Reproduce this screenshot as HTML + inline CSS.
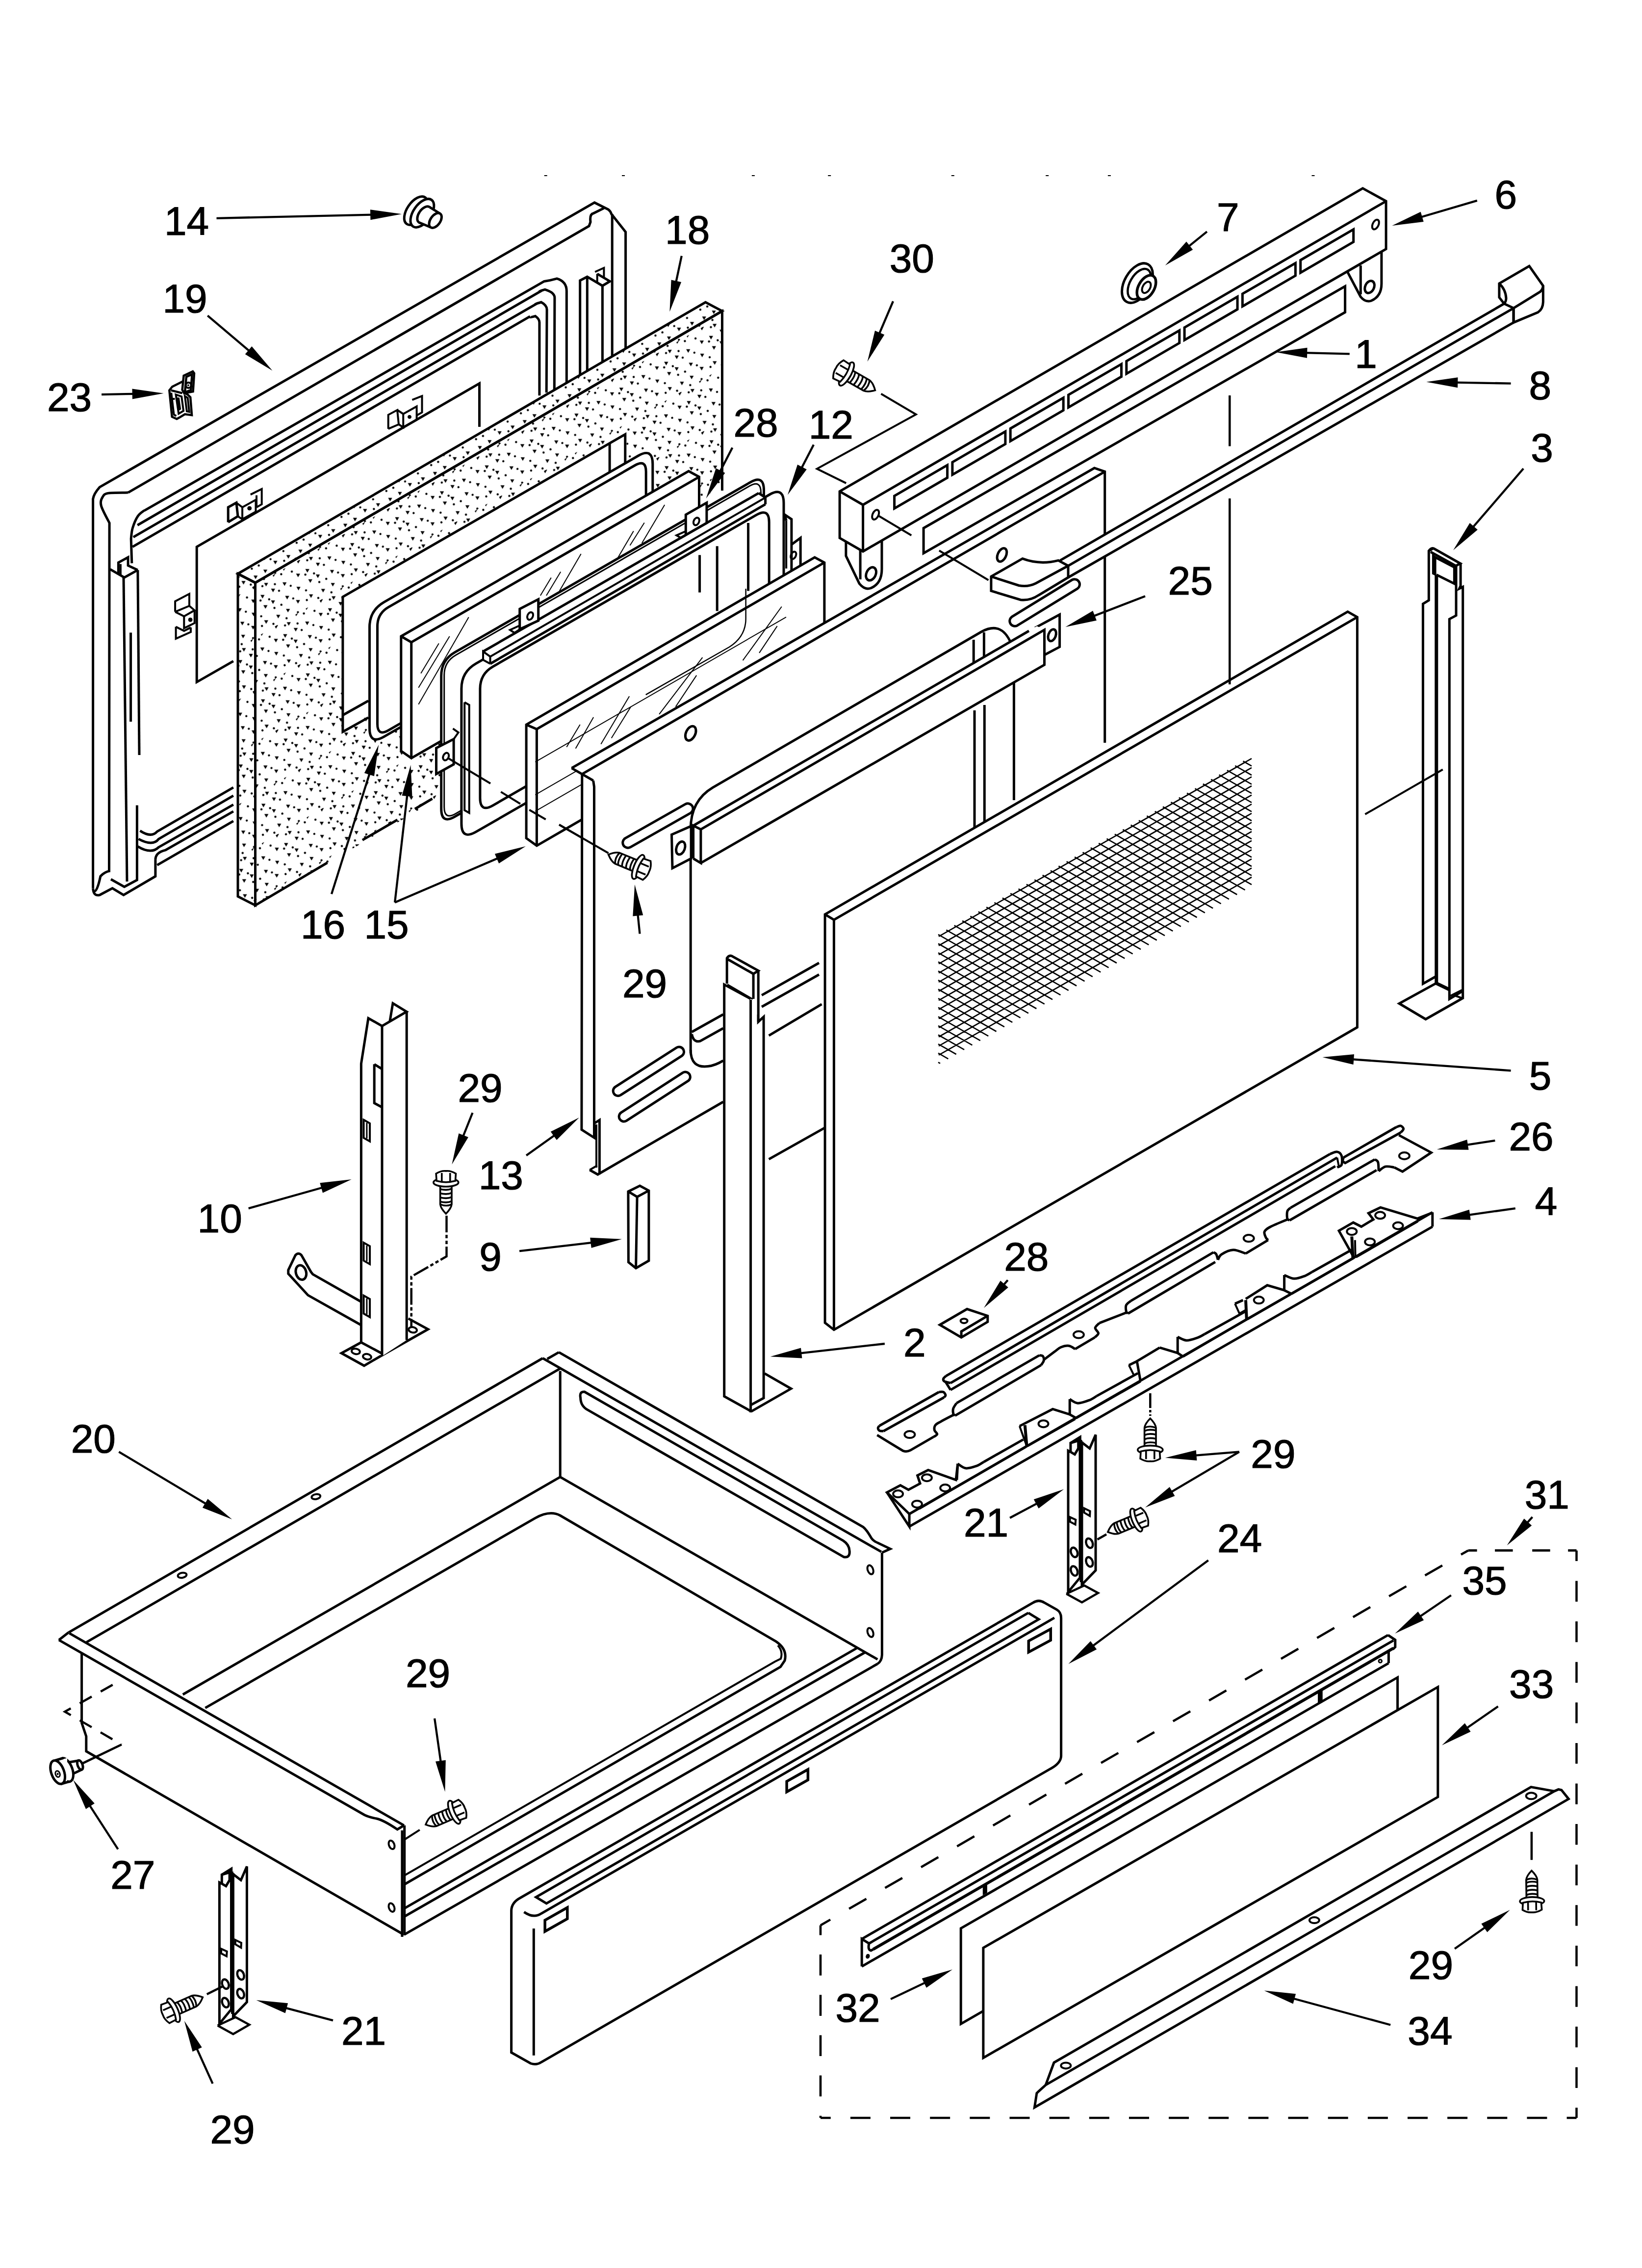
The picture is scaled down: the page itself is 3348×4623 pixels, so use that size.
<!DOCTYPE html>
<html><head><meta charset="utf-8"><title>Parts diagram</title>
<style>html,body{margin:0;padding:0;background:#fff}svg{display:block}
text{stroke:#000;stroke-width:1.2px;font-family:"Liberation Sans",Arial,Helvetica,sans-serif;fill:#000}</style></head>
<body><svg width="3348" height="4623" viewBox="0 0 3348 4623" stroke="#000" fill="none" stroke-linejoin="miter" stroke-linecap="butt">
<rect x="0" y="0" width="3348" height="4623" fill="#fff" stroke="none"/>
<defs><pattern id="dots" width="96" height="84" patternUnits="userSpaceOnUse" patternTransform="rotate(-30) scale(1.1)"><g fill="#000" stroke="none"><path d="M0.6,-4.2 L7.2,-0.4 L0.6,3.4zM9.9,20.3 L16.5,24.1 L9.9,27.9zM1.6,44.5 L8.2,48.3 L1.6,52.1zM15.1,61.2 L21.7,65.0 L15.1,68.8zM22.8,-4.6 L29.4,-0.8 L22.8,3.0zM39.7,19.0 L46.3,22.8 L39.7,26.6zM28.2,40.5 L34.7,44.3 L28.2,48.1zM41.3,64.2 L47.9,68.0 L41.3,71.8zM52.7,-2.9 L59.2,0.9 L52.6,4.7zM58.9,20.1 L65.5,23.9 L58.9,27.7zM54.1,39.4 L60.7,43.2 L54.1,47.0zM65.8,66.7 L72.3,70.5 L65.7,74.3zM75.8,4.2 L82.4,8.0 L75.8,11.8zM81.6,19.9 L88.2,23.7 L81.6,27.5zM70.7,38.7 L77.2,42.5 L70.6,46.3zM86.9,66.1 L93.4,69.9 L86.8,73.7z"/><circle cx="15.4" cy="6.1" r="2"/><circle cx="19.9" cy="33.5" r="2"/><circle cx="12.2" cy="56.1" r="2"/><circle cx="32.6" cy="71.3" r="2"/><circle cx="34.9" cy="11.7" r="2"/><circle cx="53.8" cy="29.2" r="2"/><circle cx="40.3" cy="55.0" r="2"/><circle cx="52.9" cy="78.6" r="2"/><circle cx="70.1" cy="7.8" r="2"/><circle cx="68.8" cy="35.2" r="2"/><circle cx="69.3" cy="53.9" r="2"/><circle cx="79.2" cy="81.8" r="2"/><circle cx="92.0" cy="16.2" r="2"/><circle cx="92.6" cy="30.6" r="2"/><circle cx="83.4" cy="55.4" r="2"/><circle cx="7.0" cy="82.7" r="2"/></g></pattern></defs>
<path d="M189.6,1810.6 L189.6,1017.2 Q191.1,1006.6 203.3,992.9 L1212.2,412.9 L1240.6,427.2 Q1244.7,430.3 1246.7,436.3 L1275.6,472.9 L1275.6,710.4" fill="none" stroke-width="5" />
<path d="M189.6,1810.6 Q190.6,1827.7 203.3,1824.3 L229.2,1810.6 L252,1824.3 L316.9,1786.2 L316.9,1752.7" fill="none" stroke-width="5" />
<path d="M316.9,1752.7 Q316.9,1737.6 337.3,1732.9 L475.8,1653.8" fill="none" stroke-width="5" />
<polyline points="320.5,1763.4 475.8,1673.6" fill="none" stroke-width="5" />
<path d="M1231.4,424.2 L1210.1,434.8 Q1202,436.4 1204,452.4 L1201,460.7 L261.1,1004.1" fill="none" stroke-width="5" />
<path d="M261.1,1004.1 C254.5,1004.3 230.2,1003.7 221.6,1005.1 C213.0,1006.5 211.9,1008.4 209.4,1012.7 C206.9,1017.0 204.0,1022.0 206.3,1030.9 C208.6,1039.8 220.3,1060.2 223.1,1066 L222.5,1775.6 Q212.8,1777.6 204.8,1786.2 Q198.6,1816.2 192.6,1816.7" fill="none" stroke-width="5" />
<polyline points="1248.2,436.3 1248.2,727.1" fill="none" stroke-width="5" />
<path d="M294.6,1040.7 L1109.6,573.4 Q1121.5,571.9 1135.5,567.9 Q1155.3,573.9 1155.3,593.2 L1155.3,780.4" fill="none" stroke-width="5" />
<path d="M280.3,1070.5 L1100.5,594.7 Q1097.1,594.1 1111.1,590.1 Q1130.9,596.1 1130.9,606.9 L1130.3,794.1" fill="none" stroke-width="5" />
<path d="M271.8,1094.9 L1091.4,620.6 Q1089.5,620 1103.5,616 Q1115.1,622 1115.1,631.2 L1114.2,800.2" fill="none" stroke-width="5" />
<path d="M270.3,1114.7 L1080.7,644.9 Q1077.4,648.3 1091.4,644.3 Q1099.9,650.3 1099.9,657.1 L1099.9,806.3" fill="none" stroke-width="5" />
<path d="M294.6,1040.1 C292.3,1042.1 284.9,1046.2 280.9,1052.3 C276.8,1058.4 272.6,1069.0 270.3,1076.6 C268.0,1084.2 267.7,1094.4 267.2,1097.9 L268.8,1148.2" fill="none" stroke-width="5" />
<polyline points="224.6,1160.4 253.5,1177.1 280.9,1161.9" fill="none" stroke-width="5" />
<polyline points="241.4,1169.5 241.4,1146.7 261.1,1136 261.1,1152.7 280.9,1161.9" fill="none" stroke-width="5" />
<polyline points="245.9,1149.7 245.9,1171.9" fill="none" stroke-width="4" />
<polyline points="252,1177.1 259,1796.9" fill="none" stroke-width="5" />
<polyline points="280.9,1161.9 284,1539" fill="none" stroke-width="5" />
<polyline points="279.4,1641.6 279.4,1793.8 253.5,1807.6 226.1,1792.3" fill="none" stroke-width="5" />
<polyline points="266.6,1289.6 266.6,1471" fill="none" stroke-width="5" />
<path d="M285.5,1693.4 Q308.3,1708.5 320.5,1694.9 L475.8,1605.1" fill="none" stroke-width="5" />
<path d="M282.5,1710.1 Q311.4,1725.9 323.6,1710.1 L475.8,1621.8" fill="none" stroke-width="5" />
<path d="M280.9,1725.3 Q308.3,1742 323.6,1726.9 L475.8,1640.1" fill="none" stroke-width="5" />
<polyline points="1182.7,771.3 1182.7,571.8 1197.3,564.2 1228.4,582.5 1243.6,573.4 1217.7,558.1" fill="none" stroke-width="5" />
<polyline points="1197.3,564.2 1197.3,763.7" fill="none" stroke-width="5" />
<polyline points="1228.4,582.5 1228.4,737.8" fill="none" stroke-width="5" />
<polyline points="1213.2,554.2 1231.4,546 1231.4,565.7" fill="none" stroke-width="4" />
<polyline points="1217.7,558.1 1217.7,574.9" fill="none" stroke-width="4" />
<polyline points="475.8,1347.6 401.2,1390.3 401.2,1114.7 977.5,781.6 977.5,869.9" fill="none" stroke-width="5" />
<polyline points="465.2,1064.4 465.2,1034 481.9,1024.8 485,1052.3 465.2,1064.4" fill="none" stroke-width="5" />
<polyline points="485,1052.3 494.1,1058.3 494.1,1034 481.9,1024.8" fill="none" stroke-width="4" />
<polyline points="494.1,1034 521.5,1018.8 521.5,1043.1 494.1,1058.3" fill="none" stroke-width="4" />
<polyline points="510.8,1008.1 533.7,996.8 533.7,1027.9 523,1034" fill="none" stroke-width="4" />
<polyline points="523,1009.6 523,1034" fill="none" stroke-width="4" />
<ellipse cx="508.7" cy="1036.1" rx="4" ry="4" transform="rotate(0 508.7 1036.1)" fill="#000" stroke-width="1"/>
<polyline points="791.7,874.2 791.7,845.6 810,835.8 813,865 791.7,874.2" fill="none" stroke-width="4" />
<polyline points="813,865 822.2,871.1 822.2,843.7 810,835.8" fill="none" stroke-width="4" />
<polyline points="822.2,843.7 849.6,828.5 849.6,855.9 822.2,871.1" fill="none" stroke-width="4" />
<polyline points="840.4,815.1 860.5,807.2 860.5,840.7 849.6,846.8" fill="none" stroke-width="4" />
<ellipse cx="835" cy="849.8" rx="3.5" ry="3.5" transform="rotate(0 835 849.8)" fill="#000" stroke-width="1"/>
<polyline points="357.1,1247.1 357.1,1225.8 386,1210.6 386,1235 357.1,1247.1" fill="none" stroke-width="4" />
<polyline points="357.1,1247.1 375.3,1256.3 396.7,1244.1 386,1235" fill="none" stroke-width="4" />
<polyline points="375.3,1256.3 375.3,1280.6 396.7,1270 396.7,1244.1" fill="none" stroke-width="4" />
<polyline points="358.6,1277.6 375.3,1286.1 389,1279.1" fill="none" stroke-width="4" />
<polyline points="358.6,1277.6 358.6,1301.9 389,1288.2 389,1279.1" fill="none" stroke-width="4" />
<ellipse cx="388.1" cy="1263.3" rx="4" ry="4" transform="rotate(0 388.1 1263.3)" fill="#000" stroke-width="1"/>
<path d="M485,1169.5 L1438.5,616 L1472.5,634 L1472.5,992 L1425.5,1018 L899.7,1516 L899.7,1624.5 L520.5,1845.3 L485,1827.3 Z" fill="#fff" stroke="none"/>
<path d="M520.5,1187.8 L1472.5,634 L1472.5,992 L1425.5,1018 L899.7,1516 L899.7,1624.5 L520.5,1845.3 Z M699.4,1217.6 L1277.4,883.5 L1277.4,1154.2 L699.4,1486.8 Z" fill="url(#dots)" fill-rule="evenodd" stroke="none"/>
<polygon points="485,1169.5 1438.5,616 1472.5,634 520.5,1187.8" fill="url(#dots)" stroke-width="5" />
<polygon points="485,1169.5 485,1827.3 520.5,1845.3 520.5,1187.8" fill="url(#dots)" stroke-width="5" />
<polyline points="520.5,1187.8 1472.5,634 1472.5,1000" fill="none" stroke-width="5" />
<polyline points="520.5,1187.8 520.5,1845.3 667.5,1758.5" fill="none" stroke-width="5" />
<polyline points="739,1712.4 810.3,1671" fill="none" stroke-width="5" />
<polyline points="845.9,1649 881.5,1628" fill="none" stroke-width="5" />
<polyline points="751,1462.6 698.9,1491.8 698.9,1216.6 1274.8,885.3 1274.8,946.2" fill="none" stroke-width="5" />
<polyline points="698.9,1457.7 751,1428.5" fill="none" stroke-width="5" />
<polyline points="1243.1,904.8 1243.1,963.2" fill="none" stroke-width="5" />
<path d="M753.5,1278.3 Q753.5,1244.3 783.0,1227.3 L1301.3,929.0 Q1330.8,912.1 1330.8,946.1 L1330.8,1152.4 Q1330.8,1186.4 1301.3,1203.3 L783.0,1501.6 Q753.5,1518.6 753.5,1484.6 Z" fill="#fff" stroke-width="5" />
<path d="M769.5,1276.7 Q769.5,1250.7 792.0,1237.7 L1294.7,948.5 Q1317.2,935.5 1317.2,961.5 L1317.2,1160.4 Q1317.2,1186.4 1294.7,1199.4 L792.0,1488.6 Q769.5,1501.6 769.5,1475.6 Z" fill="none" stroke-width="5" />
<polygon points="817.8,1297 1404.1,960.3 1425.5,972.1 1425.5,1208.4 838.7,1545.4 817.8,1530.8" fill="#fff" stroke-width="5" />
<polyline points="817.8,1297 838.7,1309.1 1425.5,972.1" fill="none" stroke-width="5" />
<polyline points="838.7,1309.1 838.7,1545.4" fill="none" stroke-width="5" />
<polyline points="858.2,1372.5 894.8,1311.6" fill="none" stroke-width="2" />
<polyline points="853.3,1401.7 916.7,1297" fill="none" stroke-width="2" />
<polyline points="853.3,1435.8 955.7,1258" fill="none" stroke-width="2" />
<polyline points="1101.8,1214.1 1123.8,1177.6" fill="none" stroke-width="2" />
<polyline points="1114,1214.1 1143.2,1165.4" fill="none" stroke-width="2" />
<polyline points="1140.8,1204.4 1184.7,1128.9" fill="none" stroke-width="2" />
<polyline points="1260.2,1136.2 1291.8,1082.6" fill="none" stroke-width="2" />
<polyline points="1284.5,1111.8 1313.8,1065.5" fill="none" stroke-width="2" />
<polyline points="1308.9,1106.9 1355.2,1029" fill="none" stroke-width="2" />
<path d="M899.7,1377.7 Q899.7,1345.7 927.4,1329.7 L1529.8,983.1 Q1557.5,967.1 1557.5,999.1 L1557.5,1270.1 Q1557.5,1302.1 1529.8,1318.1 L927.4,1664.7 Q899.7,1680.7 899.7,1648.7 Z" fill="#fff" stroke-width="5" />
<path d="M905.7,1376.0 Q905.7,1349.0 929.1,1335.5 L1528.1,990.8 Q1551.5,977.3 1551.5,1004.3 L1551.5,1273.3 Q1551.5,1300.3 1528.1,1313.8 L929.1,1658.5 Q905.7,1672.0 905.7,1645.0 Z" fill="none" stroke-width="3" />
<polyline points="1603.2,1061.4 1603.2,1158.8" fill="none" stroke-width="4" />
<polyline points="1603.2,1061.4 1600.2,1049.2 1613.9,1058.3 1613.9,1174.1" fill="none" stroke-width="5" />
<polyline points="1613.9,1110.1 1632.2,1096.4 1632.2,1152.7" fill="none" stroke-width="5" />
<ellipse cx="1617.8" cy="1132" rx="5" ry="8" transform="rotate(25 1617.8 1132)" fill="none" stroke-width="4"/>
<path d="M940.9,1403.7 Q940.9,1369.7 970.4,1352.7 L1568.5,1008.5 Q1598.0,991.5 1598.0,1025.5 L1598.0,1300.5 Q1598.0,1334.5 1568.5,1351.5 L970.4,1695.7 Q940.9,1712.7 940.9,1678.7 Z" fill="#fff" stroke-width="5" />
<polyline points="947.2,1431.4 947.2,1651.5 956.7,1657 956.7,1436.9 947.2,1431.4" fill="none" stroke-width="4" />
<path d="M978.9,1403.8 Q978.9,1373.8 1004.9,1358.8 L1542.2,1049.6 Q1568.2,1034.7 1568.2,1064.7 L1568.2,1287.7 Q1568.2,1317.7 1542.2,1332.6 L1004.9,1641.8 Q978.9,1656.8 978.9,1626.8 Z" fill="none" stroke-width="5" />
<polyline points="1426.6,1131.4 1426.6,1207.6" fill="none" stroke-width="5" />
<polyline points="1462.2,1113.2 1462.2,1245.6" fill="none" stroke-width="5" />
<polyline points="1525.6,1066 1525.6,1204.5" fill="none" stroke-width="5" />
<polyline points="1566.7,1201.5 1566.7,1295.9" fill="none" stroke-width="5" />
<polygon points="985,1328 1546.9,1005.1 1560.6,1014.2 1560.6,1027.9 999.5,1353 985,1345" fill="#fff" stroke-width="1"  stroke="none"/>
<polyline points="985,1328 1546.9,1005.1" fill="none" stroke-width="5" />
<polyline points="999.5,1338.4 1560.6,1014.2" fill="none" stroke-width="4" />
<polyline points="999.5,1353 1560.6,1027.9" fill="none" stroke-width="5" />
<polyline points="1546.9,1005.1 1560.6,1014.2 1560.6,1027.9" fill="none" stroke-width="5" />
<polyline points="999.5,1353 999.5,1338.4 985,1328 985,1345 999.5,1353" fill="none" stroke-width="4" />
<polygon points="1398.3,1049.2 1440.9,1024.8 1440.9,1066 1398.3,1090.3" fill="#fff" stroke-width="5" />
<ellipse cx="1419.9" cy="1062.9" rx="5.5" ry="8" transform="rotate(25 1419.9 1062.9)" fill="none" stroke-width="4"/>
<polyline points="1398.3,1082.7 1379.4,1091.2 1388.6,1096.4 1398.3,1091" fill="none" stroke-width="4" />
<polygon points="1059.7,1241.3 1097.7,1221.5 1097.7,1265.1 1059.7,1282.5" fill="#fff" stroke-width="5" />
<ellipse cx="1081" cy="1255.6" rx="5.5" ry="8" transform="rotate(25 1081 1255.6)" fill="none" stroke-width="4"/>
<polyline points="1059.7,1275 1040,1284 1049,1290 1059.7,1283" fill="none" stroke-width="4" />
<polygon points="889.5,1524.8 925.1,1506.6 925.1,1558 889.5,1577.8" fill="#fff" stroke-width="5" />
<ellipse cx="909.2" cy="1542.2" rx="5.5" ry="8" transform="rotate(25 909.2 1542.2)" fill="none" stroke-width="4"/>
<polyline points="923.5,1485.2 934.6,1493.1 925.1,1506.6" fill="none" stroke-width="4" />
<polyline points="913,1545 1000,1597" fill="none" stroke-width="4" />
<polygon points="1073.1,1477.1 1661.1,1136 1680.9,1146.7 1680.9,1384.3 1094.4,1723.8 1073.1,1708.5" fill="#fff" stroke-width="5" />
<polyline points="1073.1,1477.1 1094.4,1486.2 1680.9,1146.7" fill="none" stroke-width="5" />
<polyline points="1094.4,1486.2 1094.4,1723.8" fill="none" stroke-width="5" />
<polyline points="1021.3,1614.1 1060.9,1638.5" fill="none" stroke-width="4" />
<polyline points="1079.2,1650.7 1112.7,1670.2" fill="none" stroke-width="4" />
<polyline points="1140.1,1681.1 1240.6,1739" fill="none" stroke-width="4" />
<polyline points="1091.4,1553.2 1602.9,1257.9" fill="none" stroke-width="2" />
<polyline points="1091.4,1620.2 1426.3,1426.6" fill="none" stroke-width="2" />
<polyline points="1091.4,1653.7 1389.8,1481.4" fill="none" stroke-width="2" />
<polyline points="1155.3,1522.8 1182.7,1477.1" fill="none" stroke-width="2" />
<polyline points="1173.6,1525.8 1210.1,1461.9" fill="none" stroke-width="2" />
<polyline points="1225.3,1516.7 1283.2,1419.2" fill="none" stroke-width="2" />
<polyline points="1246.7,1504.5 1286.2,1440.6" fill="none" stroke-width="2" />
<polyline points="1344.1,1455.8 1432.4,1340.1" fill="none" stroke-width="2" />
<polyline points="1377.6,1440.6 1420.2,1376.6" fill="none" stroke-width="2" />
<polyline points="1514.6,1346.2 1593.8,1236.5" fill="none" stroke-width="2" />
<polyline points="1548.1,1330.9 1584.7,1276.1" fill="none" stroke-width="2" />
<path d="M1520.7,1200 L1520.7,1260.9 Q1520.7,1297.4 1487.2,1318.8 L1316.7,1416.2" fill="none" stroke-width="2.5" />
<polygon points="1165.5,1565.7 2231.4,954 2252.7,961.3 2252.7,1796.41 1218.8,2394 1202.3,2384.8 1222.4,2373 1222.4,2283 1211.5,2290 1211.5,2319 1185.9,2302.6 1186.8,1577.9" fill="#fff" stroke-width="1"  stroke="none"/>
<polyline points="1165.5,1565.7 2231.4,954 2252.7,961.3 2252.7,1514" fill="none" stroke-width="5" />
<polyline points="1165.5,1565.7 1186.8,1577.9 2252.7,961.3" fill="none" stroke-width="5" />
<polyline points="1186.8,1577.9 1185.9,2302.6 1211.5,2319 1211.5,1604 1209.6,1591" fill="none" stroke-width="5" />
<polyline points="1186.8,1577.9 1209.6,1591" fill="none" stroke-width="5" />
<polyline points="1211.5,2290 1222.4,2283 1222.4,2394" fill="none" stroke-width="5" />
<polyline points="1216,2292 1216,2380" fill="none" stroke-width="4" />
<polyline points="1202.3,2384.8 1218.8,2394 1474.5,2246" fill="none" stroke-width="5" />
<polyline points="1202.3,2384.8 1217.7,2375.7" fill="none" stroke-width="4" />
<path d="M1408.2,2147 L1408.2,1690 Q1408.2,1632 1453.2,1605.3 L2001.6,1287.5 Q2045,1264 2064,1318 L2067.4,1335 L2067.4,1631" fill="none" stroke-width="5" />
<path d="M1408.2,2140 Q1408.2,2178 1443.5,2173.6 Q1458,2172 1474.5,2162" fill="none" stroke-width="5" />
<polyline points="1410.6,2103.5 1474.5,2067.8" fill="none" stroke-width="5" />
<path d="M1410.6,2108 Q1414,2126 1428,2122 L1474.5,2096" fill="none" stroke-width="5" />
<polyline points="1553.1,2028.6 1670,1962.8" fill="none" stroke-width="5" />
<polyline points="1553.1,2052.3 1670,1986.5" fill="none" stroke-width="5" />
<polyline points="1567.7,2110.8 1675.5,2046.8" fill="none" stroke-width="5" />
<polyline points="1567.7,2362.9 1684.7,2297.1" fill="none" stroke-width="5" />
<polyline points="1985.2,1304 1985.2,1368" fill="none" stroke-width="5" />
<polyline points="2006.4,1289 2006.4,1357" fill="none" stroke-width="5" />
<polyline points="1987,1448 1987,1700" fill="none" stroke-width="5" />
<polyline points="2007.3,1437 2007.3,1690" fill="none" stroke-width="5" />
<path d="M1284.9,1727.1 L1408.2,1657.1 A10.5,10.5 0 0 0 1397.8,1638.9 L1274.5,1708.9 A10.5,10.5 0 0 0 1284.9,1727.1 Z" fill="none" stroke-width="5" />
<path d="M2074.0,1275.2 L2197.2,1199.6 A10.5,10.5 0 0 0 2186.2,1181.8 L2063.0,1257.4 A10.5,10.5 0 0 0 2074.0,1275.2 Z" fill="none" stroke-width="5" />
<path d="M1265.1,2232.4 L1390.4,2152.1 A10,10 0 0 0 1379.6,2135.3 L1254.3,2215.6 A10,10 0 0 0 1265.1,2232.4 Z" fill="none" stroke-width="5" />
<path d="M1277.1,2284.7 L1403.2,2203.2 A10,10 0 0 0 1392.4,2186.4 L1266.3,2267.9 A10,10 0 0 0 1277.1,2284.7 Z" fill="none" stroke-width="5" />
<ellipse cx="1408.2" cy="1494.8" rx="9.5" ry="15.5" transform="rotate(25 1408.2 1494.8)" fill="none" stroke-width="5"/>
<ellipse cx="2042.9" cy="1131.1" rx="8.5" ry="14.5" transform="rotate(25 2042.9 1131.1)" fill="none" stroke-width="5"/>
<polygon points="1883.1,1076.5 2742.6,583.5 2742.6,636.5 1883.1,1127.7" fill="#fff" stroke-width="5" />
<path d="M1724.9,1104 L1724.9,1133.2 L1752.3,1189.8 Q1763,1203 1775,1199 Q1798,1190 1798,1160 L1798,1102" fill="#fff" stroke-width="5" />
<polyline points="1754.1,1122.2 1754.1,1181" fill="none" stroke-width="5" />
<ellipse cx="1776.1" cy="1169.7" rx="9.5" ry="14" transform="rotate(25 1776.1 1169.7)" fill="none" stroke-width="5"/>
<path d="M2746.9,553.2 L2774.3,605 Q2784,617 2796,613 Q2816.9,604 2816.9,578 L2816.9,510" fill="#fff" stroke-width="5" />
<polyline points="2774.3,541 2774.3,600" fill="none" stroke-width="5" />
<ellipse cx="2792.6" cy="584.9" rx="9" ry="13" transform="rotate(25 2792.6 584.9)" fill="none" stroke-width="5"/>
<polygon points="1712.1,1001.6 2778.6,383.9 2826.1,410.1 2826.1,507.6 1759.6,1124 1712.1,1096.6" fill="#fff" stroke-width="5" />
<polyline points="1712.1,1001.6 1759.6,1029 2826.1,410.1" fill="none" stroke-width="5" />
<polyline points="1759.6,1029 1759.6,1124" fill="none" stroke-width="5" />
<polygon points="1823.6,1010.8 1931.6,948.128 1931.6,973.728 1823.6,1036.4" fill="none" stroke-width="5" />
<polygon points="1941.9,942.151 2049.9,879.478 2049.9,905.078 1941.9,967.751" fill="none" stroke-width="5" />
<polygon points="2060.2,873.501 2168.2,810.829 2168.2,836.429 2060.2,899.101" fill="none" stroke-width="5" />
<polygon points="2178.5,804.852 2286.5,742.179 2286.5,767.779 2178.5,830.452" fill="none" stroke-width="5" />
<polygon points="2296.8,736.202 2404.8,673.53 2404.8,699.13 2296.8,761.802" fill="none" stroke-width="5" />
<polygon points="2415.1,667.553 2523.1,604.88 2523.1,630.48 2415.1,693.153" fill="none" stroke-width="5" />
<polygon points="2533.4,598.903 2641.4,536.231 2641.4,561.831 2533.4,624.503" fill="none" stroke-width="5" />
<polygon points="2651.7,530.254 2759.7,467.581 2759.7,493.181 2651.7,555.854" fill="none" stroke-width="5" />
<ellipse cx="1785.2" cy="1049.1" rx="6" ry="10.5" transform="rotate(25 1785.2 1049.1)" fill="none" stroke-width="4"/>
<ellipse cx="2804.8" cy="457.6" rx="6" ry="10.5" transform="rotate(25 2804.8 457.6)" fill="none" stroke-width="4"/>
<polyline points="1790.7,1051 1858.3,1091.2" fill="none" stroke-width="4" />
<polyline points="1914.9,1122.2 2015.4,1182.5" fill="none" stroke-width="4" />
<polyline points="1796.5,802.8 1867.7,844.7 1665.8,955.6 1725.2,984.9" fill="none" stroke-width="4" />
<polygon points="2161.6,1142.3 3066.9,619 3086.1,628.1 3086.1,657.4 2178,1177 2178,1153.3" fill="#fff" stroke-width="1"  stroke="none"/>
<polyline points="2161.6,1142.3 3066.9,619" fill="none" stroke-width="5" />
<polyline points="2178,1153.3 3086.1,628.1" fill="none" stroke-width="5" />
<polyline points="2178,1177 3086.1,657.4" fill="none" stroke-width="5" />
<path d="M3056.9,577.9 L3118.1,542.3 L3146.4,582.5 L3146.4,615.4 Q3146,630 3136,636.5 L3086.1,657.4 L3086.1,628.1 L3066.9,619 L3056.9,606.2 Z" fill="#fff" stroke-width="5" />
<polyline points="3086.1,628.1 3086.1,657.4" fill="none" stroke-width="5" />
<path d="M3086.1,628.1 L3140,595 Q3146,590 3146.4,582.5" fill="none" stroke-width="5" />
<path d="M3056.9,577.9 Q3070,590 3071,608 Q3071,614 3066.9,619" fill="none" stroke-width="5" />
<path d="M2020.9,1175.2 L2084.8,1138.7 Q2120,1152 2157.9,1142.3 L2178,1153.3 L2178,1177 L2118,1213 Q2100,1225 2081.2,1222.7 L2020.9,1204.4 Z" fill="#fff" stroke-width="5" />
<path d="M2020.9,1175.2 L2077.5,1193.5 Q2096,1197 2112,1189 L2178,1153.3" fill="none" stroke-width="5" />
<polygon points="1369.5,1701.2 1409.1,1683.9 1409.1,1750 1371,1769.7" fill="#fff" stroke-width="5" />
<ellipse cx="1387.8" cy="1728.6" rx="8.5" ry="13.7" transform="rotate(20 1387.8 1728.6)" fill="none" stroke-width="5"/>
<polygon points="2113.1,1278.4 2160.6,1252.8 2160.6,1318.6 2129.5,1335 2129.5,1285.7 2124.1,1289.3" fill="#fff" stroke-width="5" />
<ellipse cx="2145.2" cy="1294.8" rx="7.5" ry="12.5" transform="rotate(20 2145.2 1294.8)" fill="none" stroke-width="5"/>
<polygon points="1413.6,1683 2114.2,1276.3 2129.5,1283.9 2129.5,1355.1 1428.9,1759.1 1413.6,1750" fill="#fff" stroke-width="1"  stroke="none"/>
<polyline points="1413.6,1750 1413.6,1683 1428.9,1690.6 1428.9,1759.1 1413.6,1750" fill="none" stroke-width="5" />
<polyline points="1428.9,1690.6 2129.5,1283.9 2129.5,1355.1 1428.9,1759.1" fill="none" stroke-width="5" />
<polyline points="1413.6,1683 2098,1286" fill="none" stroke-width="5" />
<polygon points="1476.7,2006.9 1482.2,2004 1482.2,1953 1491.4,1948.4 1546.2,1978.6 1546.2,2082.7 1557.1,2072.7 1557.1,2849.8 1612.9,2830.6 1531.6,2877.2 1476.7,2846.2" fill="#fff" stroke-width="1"  stroke="none"/>
<polyline points="1559,2799.6 1612.9,2830.6 1531.6,2877.2" fill="none" stroke-width="5" />
<polyline points="1530.6,2036 1476.7,2006.9 1476.7,2846.2 1530.6,2876.3" fill="none" stroke-width="5" />
<polyline points="1483.2,2006.5 1534.6,2036.5" fill="none" stroke-width="3" />
<polyline points="1530.6,2038 1530.6,2879" fill="none" stroke-width="5" />
<path d="M1482.2,2005 L1482.2,1953 Q1486,1947 1491.4,1948.4 L1546.2,1978.6 L1536.1,1985 L1483.2,1955" fill="none" stroke-width="5" />
<polyline points="1536.1,1985.9 1536.1,2036.1" fill="none" stroke-width="5" />
<polyline points="1546.2,1978.6 1546.2,2082.7 1557.1,2072.7 1557.1,2849.8 1531.6,2863.5" fill="none" stroke-width="5" />
<polyline points="1545.2,2082.7 1545.2,2068" fill="none" stroke-width="3" />
<polygon points="1280.9,2428.7 1304.6,2417 1322.9,2426.9 1322.9,2569.7 1296.6,2584.9 1281.4,2572.7" fill="#fff" stroke-width="5" />
<polyline points="1280.9,2428.7 1299.1,2439.6 1322.9,2426.9" fill="none" stroke-width="5" />
<polyline points="1299.1,2439.6 1296.6,2584.9" fill="none" stroke-width="5" />
<polygon points="1682.1,1863.8 2747.9,1246.9 2767.4,1257.9 2767.4,2094 1700.4,2710.6 1682.1,2696.3" fill="#fff" stroke-width="5" />
<polyline points="1682.1,1863.8 1700.4,1874.8 2767.4,1257.9" fill="none" stroke-width="5" />
<polyline points="1700.4,1874.8 1700.4,2710.6" fill="none" stroke-width="5" />
<path d="M1914.0,1908.9 L2552.0,1546.2M1914.0,1927.5 L2552.0,1564.8M1914.0,1946.1 L2552.0,1583.4M1914.0,1964.7 L2552.0,1602.0M1914.0,1983.3 L2552.0,1620.6M1914.0,2001.9 L2552.0,1639.2M1914.0,2020.5 L2552.0,1657.8M1914.0,2039.1 L2552.0,1676.4M1914.0,2057.7 L2552.0,1695.0M1914.0,2076.3 L2552.0,1713.6M1914.0,2094.9 L2552.0,1732.2M1914.0,2113.5 L2552.0,1750.8M1914.0,2132.1 L2552.0,1769.4M1914.0,2150.7 L2552.0,1788.0M1913.0,2165.3 L1917.0,2167.6M1913.0,2146.7 L1933.4,2158.3M1913.0,2128.1 L1949.7,2149.0M1913.0,2109.5 L1966.1,2139.7M1913.0,2090.9 L1982.4,2130.4M1913.0,2072.3 L1998.8,2121.1M1913.0,2053.7 L2015.2,2111.8M1913.0,2035.1 L2031.5,2102.5M1913.0,2016.5 L2047.9,2093.2M1913.0,1997.9 L2064.2,2083.9M1913.0,1979.3 L2080.6,2074.6M1913.0,1960.7 L2096.9,2065.3M1913.0,1942.1 L2113.3,2056.0M1913.0,1923.5 L2129.7,2046.7M1913.0,1904.9 L2146.0,2037.4M1929.4,1895.6 L2162.4,2028.1M1945.7,1886.3 L2178.7,2018.8M1962.1,1877.0 L2195.1,2009.5M1978.4,1867.7 L2211.5,2000.2M1994.8,1858.4 L2227.8,1990.9M2011.2,1849.1 L2244.2,1981.6M2027.5,1839.8 L2260.5,1972.3M2043.9,1830.5 L2276.9,1963.0M2060.2,1821.2 L2293.3,1953.7M2076.6,1811.9 L2309.6,1944.4M2092.9,1802.6 L2326.0,1935.1M2109.3,1793.3 L2342.3,1925.8M2125.7,1784.0 L2358.7,1916.5M2142.0,1774.7 L2375.0,1907.2M2158.4,1765.4 L2391.4,1897.9M2174.7,1756.1 L2407.8,1888.6M2191.1,1746.8 L2424.1,1879.3M2207.5,1737.5 L2440.5,1870.0M2223.8,1728.2 L2456.8,1860.7M2240.2,1718.9 L2473.2,1851.4M2256.5,1709.6 L2489.6,1842.1M2272.9,1700.3 L2505.9,1832.8M2289.3,1691.0 L2522.3,1823.5M2305.6,1681.7 L2538.6,1814.2M2322.0,1672.4 L2552.0,1803.2M2338.3,1663.1 L2552.0,1784.6M2354.7,1653.8 L2552.0,1766.0M2371.0,1644.5 L2552.0,1747.4M2387.4,1635.2 L2552.0,1728.8M2403.8,1625.9 L2552.0,1710.2M2420.1,1616.6 L2552.0,1691.6M2436.5,1607.3 L2552.0,1673.0M2452.8,1598.0 L2552.0,1654.4M2469.2,1588.7 L2552.0,1635.8M2485.6,1579.4 L2552.0,1617.2M2501.9,1570.1 L2552.0,1598.6M2518.3,1560.8 L2552.0,1580.0M2534.6,1551.5 L2552.0,1561.4" fill="none" stroke-width="2.7" />
<polygon points="2913.3,1123 2922.4,1117.6 2978.1,1149.6 2978.1,1194.3 2982.7,1196.2 2982.7,2036.4 2906.9,2077.5 2853,2045.5 2901.4,2018 2901.4,1230.9 2913.3,1223.6" fill="#fff" stroke-width="1"  stroke="none"/>
<polyline points="2927.9,2004.4 2853,2045.5 2906.9,2077.5 2982.7,2034.5" fill="none" stroke-width="5" />
<polyline points="2922.4,1117.6 2913.3,1123.1 2913.3,1223.6 2901.4,1230.9 2901.4,2005.3 2928.8,1989.8" fill="none" stroke-width="5" />
<path d="M2913.3,1123.1 Q2918,1116 2923.5,1118 L2977.5,1148.5 L2968.5,1153.5 L2917,1125" fill="none" stroke-width="5" />
<polyline points="2922.4,1128.6 2922.4,1168.8 2928,1171.5" fill="none" stroke-width="5" />
<polyline points="2926.1,1168.8 2926.1,1135.9 2965.4,1156.3 2965.4,1189.8 2928.8,1171.5" fill="none" stroke-width="5" />
<polyline points="2928.8,1171.5 2928.8,2004.4 2955.3,2017.2" fill="none" stroke-width="7" />
<polyline points="2969,1153.5 2969,1254.6 2955.3,1261.9 2955.3,2036.4 2981,2020.8" fill="none" stroke-width="5" />
<polyline points="2957.1,2030 2980.9,2018.1" fill="none" stroke-width="4" />
<polyline points="2978.1,1149.6 2978.1,1194.3 2975.5,1199.8 2982.7,1196.2 2982.7,2036.4" fill="none" stroke-width="5" />
<polyline points="2968.1,2030 2980.9,2034.5" fill="none" stroke-width="4" />
<polyline points="2783.4,1659.8 2941.8,1568.5" fill="none" stroke-width="4" />
<path d="M736.4,2653.5 L637.7,2597.4 L634,2592.6 L614.6,2558.5 Q608.5,2552 602.4,2558.5 L587.8,2588.9 L587.8,2596.2 L628,2640.1 L736.4,2701" fill="#fff" stroke-width="5" />
<ellipse cx="613.8" cy="2593.8" rx="10.5" ry="15" transform="rotate(-15 613.8 2593.8)" fill="none" stroke-width="5"/>
<polyline points="736.4,2736.3 696.2,2758.2 742.4,2783.8 779,2762.5 872.8,2709.5 832.6,2687.6" fill="#fff" stroke-width="5" />
<ellipse cx="725.4" cy="2754.6" rx="8.5" ry="5.5" transform="rotate(10 725.4 2754.6)" fill="none" stroke-width="4"/>
<ellipse cx="748.5" cy="2765.5" rx="8.5" ry="5.5" transform="rotate(10 748.5 2765.5)" fill="none" stroke-width="4"/>
<ellipse cx="841.6" cy="2710.7" rx="8.5" ry="5.5" transform="rotate(10 841.6 2710.7)" fill="none" stroke-width="4"/>
<polygon points="736.4,2168.1 751,2075.5 779,2091.4 829,2062.1 829.2,2731.4 779,2764.3 736.4,2736.3" fill="#fff" stroke-width="1"  stroke="none"/>
<polyline points="736.4,2736.3 736.4,2168.1 751,2075.5 779,2091.4 829,2062.1 801,2045.1 794.9,2081.6" fill="none" stroke-width="5" />
<polyline points="736.4,2736.3 779,2759" fill="none" stroke-width="5" />
<polyline points="779,2091.4 779,2764.3" fill="none" stroke-width="5" />
<polyline points="829.2,2062.1 829.2,2731.4" fill="none" stroke-width="5" />
<polyline points="763.2,2169.3 779,2179" fill="none" stroke-width="5" />
<polyline points="779,2257 763.2,2248.5 763.2,2169.3" fill="none" stroke-width="5" />
<polygon points="741.5,2282.6 754.1,2289.8 754.1,2326.6 741.5,2319.4" fill="none" stroke-width="4" />
<polyline points="747.9,2288.6 747.9,2320.6" fill="none" stroke-width="3" />
<polygon points="741.5,2532.9 754.1,2540.1 754.1,2576.9 741.5,2569.7" fill="none" stroke-width="4" />
<polyline points="747.9,2538.9 747.9,2570.9" fill="none" stroke-width="3" />
<polygon points="741.5,2640.8 754.1,2648 754.1,2684.8 741.5,2677.6" fill="none" stroke-width="4" />
<polyline points="747.9,2646.8 747.9,2678.8" fill="none" stroke-width="3" />
<path d="M910.5,2478 L910.5,2560.9 L838.7,2602.3 L838.7,2704.6" fill="none" stroke-width="4.5" stroke-dasharray="34 5 7 5 7 5"/>
<polygon points="1139.5,2756.3 1760.4,3112.9 1815.2,3157.1 1798.4,3164.7 1798.4,3380 1789.3,3391.5 824.7,3943.1 819.9,3941.5 175.8,3569.7 166.6,3370 120,3342.9 139.8,3327.6" fill="#fff" stroke-width="1"  stroke="none"/>
<polyline points="1142.2,3010.6 372.8,3454" fill="none" stroke-width="5" />
<polyline points="1142.2,3010.6 1789.3,3382.4" fill="none" stroke-width="5" />
<polyline points="1142.2,2794.4 1142.2,3010.6" fill="none" stroke-width="5" />
<path d="M418.5,3481.4 L1091.4,3094.3 Q1121,3078 1142,3089 L1582.2,3345.9 Q1606,3362 1600,3385 L1591.4,3397.6 L824.7,3841" fill="none" stroke-width="5" />
<path d="M1586,3354 Q1597,3366 1592,3381 L1580,3387 L824.7,3822.8" fill="none" stroke-width="4" />
<path d="M1719.2,3140.3 L1191.8,2837 Q1181,2836 1183.6,2849.2 Q1184,2866 1197.9,2873.6 L1720.8,3173.8 Q1734,3176 1732,3160 Q1731,3148 1719.2,3140.3 Z" fill="none" stroke-width="5" />
<path d="M1139.5,2756.3 L1760.4,3112.9 Q1767,3118 1777.1,3135.7 Q1782,3142 1790,3145 L1815.2,3157.1 L1798.4,3164.7" fill="none" stroke-width="5" />
<polyline points="1796.9,3163.2 1106.6,2768.5" fill="none" stroke-width="5" />
<polyline points="1139.5,2756.3 1115.8,2770" fill="none" stroke-width="5" />
<path d="M1798.4,3164.7 L1798.4,3373 Q1798,3386 1789.3,3391.5" fill="none" stroke-width="5" />
<ellipse cx="1774.7" cy="3199.7" rx="5.5" ry="9.5" transform="rotate(-20 1774.7 3199.7)" fill="none" stroke-width="4"/>
<ellipse cx="1774.7" cy="3327.6" rx="5.5" ry="9.5" transform="rotate(-20 1774.7 3327.6)" fill="none" stroke-width="4"/>
<polyline points="1106.6,2768.5 139.8,3327.6" fill="none" stroke-width="5" />
<polyline points="1141.6,2789.8 176.4,3347.4" fill="none" stroke-width="5" />
<ellipse cx="644.3" cy="3050.8" rx="9" ry="5" transform="rotate(-10 644.3 3050.8)" fill="none" stroke-width="4"/>
<ellipse cx="371.5" cy="3211" rx="9" ry="5" transform="rotate(-10 371.5 3211)" fill="none" stroke-width="4"/>
<polyline points="824.7,3889.8 1746.7,3359.6" fill="none" stroke-width="5" />
<polyline points="824.7,3906.5 1764.9,3367.5" fill="none" stroke-width="5" />
<polyline points="824.7,3943.1 1789.3,3391.5" fill="none" stroke-width="5" />
<polygon points="139.8,3327.6 823.8,3720.8 824.7,3943.1 819.9,3941.5 175.8,3569.7 175.8,3539.3 166.6,3511.9 166.6,3370.3" fill="#fff" stroke-width="1"  stroke="none"/>
<polyline points="139.8,3327.6 120,3342.9" fill="none" stroke-width="5" />
<polyline points="141.4,3329.2 823.8,3720.8" fill="none" stroke-width="5" />
<path d="M120,3342.9 L743.1,3699.5 Q752,3704 768,3707 Q782,3710 810.1,3729 L823.8,3720.8" fill="none" stroke-width="5" />
<polyline points="166.6,3370.3 166.6,3511.9 175.8,3539.3 175.8,3569.7 819.9,3941.5" fill="none" stroke-width="5" />
<polyline points="819.9,3731 819.9,3948" fill="none" stroke-width="5" />
<polyline points="824.7,3720.8 824.7,3945" fill="none" stroke-width="5" />
<ellipse cx="798.5" cy="3760.4" rx="5.5" ry="9" transform="rotate(-20 798.5 3760.4)" fill="none" stroke-width="4"/>
<ellipse cx="798.5" cy="3888.2" rx="5.5" ry="9" transform="rotate(-20 798.5 3888.2)" fill="none" stroke-width="4"/>
<polyline points="824.7,3749.7 855.8,3729.9" fill="none" stroke-width="4" />
<path d="M229.7,3434.2 L132.2,3489 L247.9,3556" fill="none" stroke-width="4.5" stroke-dasharray="28 21"/>
<polyline points="247.9,3556 168.8,3594.1" fill="none" stroke-width="4.5" />
<path d="M1042.6,4183.7 L1042.6,3894.4 Q1043,3878 1060.9,3868.5 L2105.8,3267.2 Q2118,3259 2130.1,3267.2 L2154.5,3280.9 Q2163.6,3286 2163.6,3298 L2163.6,3579.4 Q2163,3594 2142.3,3605.2 L1103.5,4203.5 Q1094,4210 1082,4206 Z" fill="#fff" stroke-width="5" />
<polyline points="1088.3,3930.9 1088.3,4189.8" fill="none" stroke-width="5" />
<path d="M1068.5,3897.4 Q1088,3911 1103.5,3900.5 L2149.9,3297.7" fill="none" stroke-width="5" />
<polyline points="2096.7,3287.6 1092.9,3867 1114.2,3879.8 2118,3300.7 2096.7,3287.6" fill="none" stroke-width="5" />
<polygon points="1111.1,3914.2 1156.8,3888.3 1156.8,3911.1 1111.1,3937" fill="none" stroke-width="5.5" />
<polygon points="1604.1,3631.2 1647.4,3606.8 1647.4,3628.1 1604.1,3652.5" fill="none" stroke-width="5.5" />
<polygon points="2097.3,3344.9 2142.3,3320.5 2142.3,3343.4 2097.3,3367.7" fill="none" stroke-width="5.5" />
<path d="M2993.6,3160.4 L1673,3924.5" fill="none" stroke-width="4.6" stroke-dasharray="40.8 44" stroke-dashoffset="23.9"/>
<path d="M1673,3924.5 L1673,4317" fill="none" stroke-width="4.6" stroke-dasharray="42.7 39.5" stroke-dashoffset="22.7"/>
<path d="M3214.5,4317 L1673,4317" fill="none" stroke-width="4.6" stroke-dasharray="41 40.15" stroke-dashoffset="21.1"/>
<path d="M3214.5,4317 L3214.5,3160.4" fill="none" stroke-width="4.6" stroke-dasharray="42.2 40.4" stroke-dashoffset="21.5"/>
<path d="M2993.6,3160.4 L3214.5,3160.4" fill="none" stroke-width="4.6" stroke-dasharray="18 36.5 36.5 39.6 36.5 36.5 18"/>
<polygon points="1959.2,3930.6 2849.6,3419.2 2849.6,3614 1959.2,4125.4" fill="#fff" stroke-width="1"  stroke="none"/>
<polyline points="2004.9,4099.2 1959.2,4125.4 1959.2,3930.6 2849.6,3419.2 2849.6,3486" fill="none" stroke-width="5" />
<polygon points="2004.9,3970.4 2931.8,3438.7 2931.8,3662.9 2004.9,4194.6" fill="#fff" stroke-width="5" />
<polygon points="1757.2,3952.3 2830.1,3332.8 2844.8,3342.6 2844.8,3357.2 2839.9,3362.1 2831.4,3368.1 2831.4,3390.1 1757.2,4008.3" fill="#fff" stroke-width="1"  stroke="none"/>
<polyline points="1757.2,3952.3 2830.1,3332.8" fill="none" stroke-width="5" />
<polyline points="1771.9,3961.5 2841.1,3343.8" fill="none" stroke-width="5" />
<polyline points="1780.4,3973.4 2841.1,3359.6" fill="none" stroke-width="6" />
<polyline points="1757.2,4008.3 2831.4,3390.1" fill="none" stroke-width="5" />
<polyline points="2830.1,3332.8 2844.8,3342.6 2844.8,3357.2 2839.9,3362.1" fill="none" stroke-width="5" />
<polyline points="2831.4,3366 2831.4,3390.1" fill="none" stroke-width="5" />
<ellipse cx="2814.3" cy="3385.9" rx="3.2" ry="3.2" transform="rotate(0 2814.3 3385.9)" fill="none" stroke-width="3"/>
<polygon points="2687.6,3449 2696.2,3444 2696.2,3465.5 2687.6,3470.5" fill="#000" stroke-width="1" />
<polygon points="2004.3,3844.5 2012.3,3840 2012.3,3858 2004.3,3862.5" fill="#000" stroke-width="1" />
<path d="M1757.2,4008.3 L1757.2,3952.3 L1771.9,3961.5 Q1769,3975 1776,3976 L1780.4,3973.4" fill="none" stroke-width="5" />
<ellipse cx="1769.4" cy="3987.6" rx="3.5" ry="4.5" transform="rotate(20 1769.4 3987.6)" fill="#000" stroke-width="1"/>
<polygon points="2149,4204.3 3121.7,3642.6 3169.2,3651.1 3177.7,3647.4 3183.8,3648.7 3198.4,3666.9 2109.4,4295.6 2113.9,4266.7 2132.2,4249.9" fill="#fff" stroke-width="1"  stroke="none"/>
<polyline points="2132.2,4249.9 2149,4204.3 3121.7,3642.6 3169.2,3651.1" fill="none" stroke-width="5" />
<polyline points="2132.2,4249.9 3169.2,3651.1 3177.7,3647.4 3183.8,3648.7 3198.4,3666.9 2109.4,4295.6 2113.9,4266.7 2117,4263.6 2132.2,4249.9" fill="none" stroke-width="5" />
<ellipse cx="2173.3" cy="4210.4" rx="10" ry="6" transform="rotate(0 2173.3 4210.4)" fill="none" stroke-width="4"/>
<ellipse cx="3122.2" cy="3660.8" rx="10.5" ry="6.5" transform="rotate(0 3122.2 3660.8)" fill="none" stroke-width="4"/>
<ellipse cx="2679.9" cy="3914.1" rx="10" ry="6" transform="rotate(0 2679.9 3914.1)" fill="none" stroke-width="4"/>
<polyline points="3122.9,3733.9 3122.9,3791.2" fill="none" stroke-width="4.6" />
<polygon points="1916.3,2700.5 1971.8,2668.3 2013.8,2682.2 2013.8,2694.3 1960.1,2726.1" fill="#fff" stroke-width="5" />
<polyline points="2013.8,2682.2 1960.1,2714 1960.1,2726.1" fill="none" stroke-width="5" />
<ellipse cx="1965.6" cy="2692.4" rx="7" ry="4.5" transform="rotate(0 1965.6 2692.4)" fill="none" stroke-width="4"/>
<polygon points="1788.4,2925.2 1841.4,2957.4 1854.1,2957.4 1903.5,2928.9 1912.6,2899.6 1943.7,2884.3 2483.4,2567.9 2540,2555.1 2585.7,2527.7 2624.8,2485.7 2811.1,2387 2859.7,2388.1 2918.2,2349.4 2852.4,2313.9 2861.6,2301.2 2856.1,2295.7 2846.9,2297.5 2735.5,2359.6 2726.4,2348.7 2711.7,2352.3 1929,2804.6 1923.6,2810.1 1927.2,2815.6 1914.4,2837.5 1793.1,2906.2" fill="#fff" stroke-width="1"  stroke="none"/>
<path d="M1788.4,2925.2 C1797.2,2930.6 1832.6,2952.0 1841.4,2957.4 Q1848.7,2959.9 1856,2956.3 L1903.5,2928.9" fill="none" stroke-width="5" />
<path d="M1903.5,2928.9 C1904.7,2928.0 1910.5,2925.7 1910.8,2923.4 C1911.1,2921.1 1905.9,2918.1 1905.3,2915 C1904.7,2911.9 1905.0,2908.0 1907.1,2905.1 C1909.2,2902.2 1912.0,2901.3 1918.1,2897.8 C1924.2,2894.3 1939.4,2886.6 1943.7,2884.3" fill="none" stroke-width="5" />
<path d="M1801.2,2917.2 C1799.8,2917.0 1794.9,2917.2 1793.1,2916.1 C1791.3,2915.0 1790.2,2912.2 1790.2,2910.6 C1790.2,2908.9 1792.6,2906.9 1793.1,2906.2" fill="none" stroke-width="5" />
<polyline points="1793.1,2906.2 1914.4,2837.5" fill="none" stroke-width="5" />
<path d="M1914.4,2837.5 C1915.9,2837.5 1921.3,2836.4 1923.6,2837.5 C1925.9,2838.6 1927.8,2842.3 1928,2844.1 C1928.2,2845.9 1925.2,2847.8 1924.7,2848.5" fill="none" stroke-width="5" />
<polyline points="1924.7,2848.5 1801.2,2917.2" fill="none" stroke-width="5" />
<polyline points="1927.2,2815.6 1938.2,2833.1" fill="none" stroke-width="5" />
<path d="M1938.2,2819.2 C1936.1,2818.6 1927.8,2817.1 1925.4,2815.6 C1923.0,2814.1 1923.0,2811.9 1923.6,2810.1 C1924.2,2808.3 1928.1,2805.5 1929,2804.6" fill="none" stroke-width="5" />
<polyline points="1929,2804.6 2711.7,2352.3" fill="none" stroke-width="5" />
<polyline points="1938.2,2819.2 2726.4,2359.6" fill="none" stroke-width="5" />
<polyline points="1938.2,2833.1 2722.7,2377.2" fill="none" stroke-width="5" />
<path d="M2711.7,2352.3 C2714.1,2351.6 2722.4,2347.3 2726.4,2347.9 C2730.4,2348.5 2734.0,2351.6 2735.5,2356 C2737.0,2360.4 2737.0,2370.2 2735.5,2374.2 C2734.0,2378.1 2727.9,2378.8 2726.4,2379.7" fill="none" stroke-width="5" />
<polyline points="2726.4,2359.6 2730,2377.9" fill="none" stroke-width="4" />
<path d="M2737.3,2366.9 C2737.6,2365.7 2738.9,2360.8 2739.2,2359.6" fill="none" stroke-width="5" />
<polyline points="2739.2,2359.6 2846.9,2297.5" fill="none" stroke-width="5" />
<path d="M2846.9,2297.5 C2848.4,2297.1 2853.7,2294.3 2856.1,2294.9 C2858.5,2295.5 2861.6,2298.9 2861.6,2301.2 C2861.6,2303.5 2857.0,2307.3 2856.1,2308.5" fill="none" stroke-width="5" />
<polyline points="2856.1,2308.5 2742.8,2370.6 2737.3,2366.9" fill="none" stroke-width="5" />
<polyline points="2852.4,2313.9 2918.2,2349.4 2859.7,2388.1 2843.3,2379.7" fill="none" stroke-width="5" />
<path d="M2843.3,2379.7 C2840.2,2379.4 2830.4,2376.7 2825,2377.9 C2819.6,2379.1 2813.4,2385.5 2811.1,2387" fill="none" stroke-width="5" />
<ellipse cx="2863.4" cy="2356" rx="10.5" ry="7" transform="rotate(0 2863.4 2356)" fill="none" stroke-width="4"/>
<path d="M2811.1,2387 C2810.9,2384.0 2811.0,2372.8 2809.7,2368.8 C2808.4,2364.9 2804.2,2364.2 2803.1,2363.3" fill="none" stroke-width="5" />
<polyline points="2803.1,2363.3 2631.4,2461.9" fill="none" stroke-width="5" />
<path d="M2631.4,2461.9 C2630.3,2463.1 2625.9,2465.5 2624.8,2469.2 C2623.7,2472.9 2624.0,2480.8 2624.8,2483.9 C2625.6,2487.0 2628.7,2486.9 2629.5,2487.5" fill="none" stroke-width="5" />
<polyline points="2629.5,2487.5 2806.8,2385.2" fill="none" stroke-width="5" />
<path d="M2624.8,2485.7 C2619.2,2488.1 2598.9,2496.2 2591.2,2500.3 C2583.5,2504.4 2580.1,2506.5 2578.4,2510.2 C2576.7,2513.8 2579.7,2519.3 2580.9,2522.2 C2582.1,2525.1 2584.9,2526.8 2585.7,2527.7" fill="none" stroke-width="5" />
<polyline points="2585.7,2527.7 2540,2555.1" fill="none" stroke-width="5" />
<path d="M2540,2555.1 C2535.7,2553.9 2522.6,2547.5 2514.4,2547.8 C2506.2,2548.1 2495.9,2553.6 2490.7,2556.9 C2485.5,2560.2 2484.6,2566.1 2483.4,2567.9" fill="none" stroke-width="5" />
<ellipse cx="2546.2" cy="2524.1" rx="10.5" ry="7" transform="rotate(0 2546.2 2524.1)" fill="none" stroke-width="4"/>
<path d="M1947.3,2885.7 C1946.7,2885.0 1944.3,2883.8 1943.7,2881.4 C1943.1,2879.0 1942.6,2874.6 1943.7,2871.1 C1944.8,2867.6 1949.1,2862.0 1950.2,2860.2" fill="none" stroke-width="5" />
<polyline points="1950.2,2860.2 2119.1,2762.6" fill="none" stroke-width="5" />
<path d="M2119.1,2762.6 C2120.3,2762.9 2124.9,2762.6 2126.4,2764.4 C2127.9,2766.2 2128.8,2770.6 2128.2,2773.6 C2127.6,2776.6 2123.6,2781.2 2122.7,2782.7" fill="none" stroke-width="5" />
<polyline points="2122.7,2782.7 1947.3,2885.7" fill="none" stroke-width="5" />
<path d="M2299.9,2677.5 C2299.3,2676.8 2296.9,2676.0 2296.3,2673.1 C2295.7,2670.2 2294.8,2663.8 2296.3,2660.3 C2297.8,2656.8 2303.9,2653.3 2305.4,2651.9" fill="none" stroke-width="5" />
<polyline points="2305.4,2651.9 2474.2,2552.6" fill="none" stroke-width="5" />
<path d="M2474.2,2552.6 C2475.1,2553.2 2478.2,2553.6 2479.7,2556.2 C2481.2,2558.8 2482.8,2565.9 2483.4,2567.9" fill="none" stroke-width="5" />
<polyline points="2477.9,2572.3 2299.9,2677.5" fill="none" stroke-width="5" />
<ellipse cx="1854.9" cy="2924.1" rx="10.5" ry="7" transform="rotate(0 1854.9 2924.1)" fill="none" stroke-width="4"/>
<ellipse cx="2199.4" cy="2720.6" rx="10.5" ry="7" transform="rotate(0 2199.4 2720.6)" fill="none" stroke-width="4"/>
<path d="M2128.2,2771.7 C2131.8,2769.0 2144.3,2759.6 2150.1,2755.3 C2155.9,2751.1 2158.0,2748.2 2162.9,2746.2 C2167.8,2744.2 2174.4,2742.6 2179.3,2743.2 C2184.2,2743.8 2190.0,2748.7 2192.1,2749.8" fill="none" stroke-width="5" />
<polyline points="2192.1,2749.8 2232.3,2726.1" fill="none" stroke-width="5" />
<path d="M2232.3,2726.1 C2233.5,2724.7 2239.5,2720.9 2239.6,2717.7 C2239.7,2714.5 2232.8,2710.2 2233.1,2706.7 C2233.4,2703.2 2240.1,2698.5 2241.5,2696.8" fill="none" stroke-width="5" />
<polyline points="2241.5,2696.8 2298.1,2674.9" fill="none" stroke-width="5" />
<polygon points="1808.5,3042.1 1835.9,3027.5 1852.3,3036.7 1876.1,3023.9 1870.6,3007.4 1892.5,2996.5 1949.1,3016.6 1952.8,2983.7 2518.1,2657.4 2583.9,2619.8 2618.6,2630 2618.6,2599 2730,2508.7 2759.3,2491.9 2775.7,2500.3 2800.2,2485.7 2790.3,2472.9 2814.8,2461.2 2890.1,2483.9 2920.8,2471.1 2920.8,2500.3 1854.1,3111.6" fill="#fff" stroke-width="1"  stroke="none"/>
<polyline points="1854.1,3086 2920.8,2471.1" fill="none" stroke-width="5" />
<polyline points="1854.1,3111.6 2920.8,2500.3" fill="none" stroke-width="5" />
<polyline points="2920.8,2471.1 2920.8,2500.3" fill="none" stroke-width="5" />
<polyline points="1854.1,3086 1854.1,3111.6 1808.5,3042.1" fill="none" stroke-width="5" />
<polyline points="1854.1,3086 1808.5,3042.1 1835.9,3027.5 1852.3,3036.7 1876.1,3023.9 1870.6,3007.4 1892.5,2996.5 1949.1,3016.6 1952.8,2983.7" fill="none" stroke-width="5" />
<ellipse cx="1831.1" cy="3045.1" rx="10" ry="7" transform="rotate(0 1831.1 3045.1)" fill="none" stroke-width="4"/>
<ellipse cx="1889.9" cy="3012.2" rx="10" ry="7" transform="rotate(0 1889.9 3012.2)" fill="none" stroke-width="4"/>
<ellipse cx="1927.2" cy="3033" rx="10" ry="7" transform="rotate(0 1927.2 3033)" fill="none" stroke-width="4"/>
<ellipse cx="1869.9" cy="3065.9" rx="10" ry="7" transform="rotate(0 1869.9 3065.9)" fill="none" stroke-width="4"/>
<path d="M1952.8,2983.7 C1955.5,2985.2 1962.8,2992.1 1969.2,2992.8 C1975.6,2993.5 1985.1,2990.2 1991.2,2988.1 C1997.3,2986.0 2003.4,2981.3 2005.8,2980" fill="none" stroke-width="5" />
<polyline points="2005.8,2980 2086.2,2934.3" fill="none" stroke-width="5" />
<polyline points="1952.8,2983.7 1951,3016.6" fill="none" stroke-width="5" />
<polyline points="1874.2,3075 2091.7,2949" fill="none" stroke-width="5" />
<polyline points="2078.9,2906.9 2088,2932.5 2093.5,2947.1" fill="none" stroke-width="4" />
<polyline points="2089.8,2905.1 2093.5,2947.1" fill="none" stroke-width="6" />
<polyline points="2078.9,2906.9 2146.5,2872.2 2181.2,2883.2 2181.2,2852.1" fill="none" stroke-width="5" />
<path d="M2181.2,2852.1 C2183.9,2853.4 2190.9,2859.9 2197.6,2860.2 C2204.3,2860.5 2215.0,2856.4 2221.4,2854 C2227.8,2851.6 2233.6,2847.0 2236,2845.6" fill="none" stroke-width="5" />
<polyline points="2236,2845.6 2320,2799.1" fill="none" stroke-width="5" />
<ellipse cx="2127.5" cy="2902.2" rx="10" ry="7" transform="rotate(0 2127.5 2902.2)" fill="none" stroke-width="4"/>
<polyline points="2181.2,2883.2 2194,2890.5" fill="none" stroke-width="5" />
<polyline points="2095.3,2947.1 2192.1,2892.3" fill="none" stroke-width="5" />
<polyline points="2194,2890.5 2325.5,2815.6" fill="none" stroke-width="5" />
<polyline points="2301.8,2782.7 2312.7,2804.6" fill="none" stroke-width="4" />
<polyline points="2301.8,2782.7 2318.2,2774.7 2325.5,2815.6" fill="none" stroke-width="5" />
<polyline points="2318.2,2774.7 2364.6,2746.9" fill="none" stroke-width="5" />
<polyline points="2518.1,2657.4 2527.2,2677.5 2540,2670.2" fill="none" stroke-width="4" />
<polyline points="2540,2650.1 2541.8,2688.5" fill="none" stroke-width="6" />
<polyline points="2518.1,2657.4 2534.5,2650.1" fill="none" stroke-width="5" />
<polyline points="2540,2647.6 2583.9,2619.8 2618.6,2630 2618.6,2599" fill="none" stroke-width="5" />
<path d="M2618.6,2599 C2621.9,2600.2 2631.7,2606.0 2638.7,2606.3 C2645.7,2606.6 2654.5,2603.1 2660.6,2600.8 C2666.7,2598.5 2672.8,2594.0 2675.2,2592.7" fill="none" stroke-width="5" />
<polyline points="2675.2,2592.7 2755.6,2547.8" fill="none" stroke-width="5" />
<ellipse cx="2566.7" cy="2650.1" rx="10" ry="7" transform="rotate(0 2566.7 2650.1)" fill="none" stroke-width="4"/>
<polyline points="2618.6,2630 2633.2,2637.3" fill="none" stroke-width="5" />
<polyline points="2543.7,2688.5 2631.4,2638.1" fill="none" stroke-width="5" />
<polyline points="2633.2,2637.3 2761.1,2563.5" fill="none" stroke-width="5" />
<polyline points="2764.7,2562.4 2890.8,2489.3" fill="none" stroke-width="5" />
<polyline points="2761.1,2564.2 2730,2508.7 2759.3,2491.9 2775.7,2500.3 2800.2,2485.7 2790.3,2472.9 2814.8,2461.2 2890.1,2483.9 2920.8,2471.8" fill="none" stroke-width="5" />
<polyline points="2756.3,2520.4 2758.5,2564.2" fill="none" stroke-width="6" />
<polyline points="2762.9,2527.7 2763.6,2562.4" fill="none" stroke-width="4" />
<ellipse cx="2756.3" cy="2510.2" rx="10" ry="7" transform="rotate(0 2756.3 2510.2)" fill="none" stroke-width="4"/>
<ellipse cx="2814.1" cy="2477.3" rx="10" ry="7" transform="rotate(0 2814.1 2477.3)" fill="none" stroke-width="4"/>
<ellipse cx="2850.6" cy="2498.5" rx="10" ry="7" transform="rotate(0 2850.6 2498.5)" fill="none" stroke-width="4"/>
<ellipse cx="2793.2" cy="2531.4" rx="10" ry="7" transform="rotate(0 2793.2 2531.4)" fill="none" stroke-width="4"/>
<polyline points="2364.6,2746.9 2401.2,2757.9 2401.2,2725" fill="none" stroke-width="5" />
<path d="M2401.2,2725 C2404.2,2726.2 2412.7,2732.0 2419.4,2732.3 C2426.1,2732.6 2435.3,2729.0 2441.4,2726.9 C2447.5,2724.8 2453.6,2720.7 2456,2719.5" fill="none" stroke-width="5" />
<polyline points="2456,2719.5 2538.2,2673.9" fill="none" stroke-width="5" />
<polyline points="2401.2,2757.9 2412.1,2765.2" fill="none" stroke-width="5" />
<polyline points="2412.1,2765.2 2540,2690.3" fill="none" stroke-width="5" />
<polygon points="447.4,3837.2 452.3,3821.4 471.7,3809.2 475.4,3820.2 491.2,3832.4 503.4,3804.4 503.4,4080.9 480.3,4111.8 508.3,4127.1 475.4,4146.1 443.7,4128.8 447.4,4121" fill="#fff" stroke-width="1"  stroke="none"/>
<polyline points="443.7,4128.8 475.4,4146.1 508.3,4127.1 480.3,4111.8 443.7,4128.8" fill="none" stroke-width="4.5" />
<polyline points="452.3,3839.7 447.4,3837.2 447.4,4125 470.5,4097" fill="none" stroke-width="5" />
<polyline points="452.3,3839.7 452.3,3821.4 468.1,3816.5 468.1,3832.4 460.8,3844.6 452.3,3839.7" fill="none" stroke-width="5" />
<polyline points="452.3,3821.4 471.7,3809.2 471.7,4100" fill="none" stroke-width="5" />
<polyline points="470.5,3830 470.5,4099.1" fill="none" stroke-width="3" />
<polyline points="475.4,3818 475.4,4110 503.4,4080.9 503.4,3804.4 491.2,3832.4 475.4,3820.2" fill="none" stroke-width="5" />
<polyline points="473.5,3815 473.5,4105" fill="none" stroke-width="5" />
<polygon points="451,3972.4 462.7,3977.8 462,3987.6 451,3981.7" fill="none" stroke-width="4" />
<polygon points="479.8,3954.2 492,3960.3 491.5,3970 479.8,3963.2" fill="none" stroke-width="4" />
<ellipse cx="459.6" cy="4044.3" rx="6.5" ry="10" transform="rotate(-20 459.6 4044.3)" fill="none" stroke-width="4.5"/>
<ellipse cx="459.6" cy="4082.1" rx="6.5" ry="10" transform="rotate(-20 459.6 4082.1)" fill="none" stroke-width="4.5"/>
<ellipse cx="490.7" cy="4025.6" rx="6.5" ry="10" transform="rotate(-20 490.7 4025.6)" fill="none" stroke-width="4.5"/>
<ellipse cx="490.7" cy="4063.8" rx="6.5" ry="10" transform="rotate(-20 490.7 4063.8)" fill="none" stroke-width="4.5"/>
<polyline points="421.8,4065 455.9,4048" fill="none" stroke-width="4.5" />
<polygon points="2178,2957.2 2182.9,2941.4 2202.3,2929.2 2206,2940.2 2221.8,2952.4 2234,2924.4 2234,3200.9 2210.9,3231.8 2238.9,3247.1 2206,3266.1 2174.3,3248.8 2178,3241" fill="#fff" stroke-width="1"  stroke="none"/>
<polyline points="2174.3,3248.8 2206,3266.1 2238.9,3247.1 2210.9,3231.8 2174.3,3248.8" fill="none" stroke-width="4.5" />
<polyline points="2182.9,2959.7 2178,2957.2 2178,3245 2201.1,3217" fill="none" stroke-width="5" />
<polyline points="2182.9,2959.7 2182.9,2941.4 2198.7,2936.5 2198.7,2952.4 2191.4,2964.6 2182.9,2959.7" fill="none" stroke-width="5" />
<polyline points="2182.9,2941.4 2202.3,2929.2 2202.3,3220" fill="none" stroke-width="5" />
<polyline points="2201.1,2950 2201.1,3219.1" fill="none" stroke-width="3" />
<polyline points="2206,2938 2206,3230 2234,3200.9 2234,2924.4 2221.8,2952.4 2206,2940.2" fill="none" stroke-width="5" />
<polyline points="2204.1,2935 2204.1,3225" fill="none" stroke-width="5" />
<polygon points="2181.6,3092.4 2193.3,3097.8 2192.6,3107.6 2181.6,3101.7" fill="none" stroke-width="4" />
<polygon points="2210.4,3074.2 2222.6,3080.3 2222.1,3090 2210.4,3083.2" fill="none" stroke-width="4" />
<ellipse cx="2190.2" cy="3164.3" rx="6.5" ry="10" transform="rotate(-20 2190.2 3164.3)" fill="none" stroke-width="4.5"/>
<ellipse cx="2190.2" cy="3202.1" rx="6.5" ry="10" transform="rotate(-20 2190.2 3202.1)" fill="none" stroke-width="4.5"/>
<ellipse cx="2221.3" cy="3145.6" rx="6.5" ry="10" transform="rotate(-20 2221.3 3145.6)" fill="none" stroke-width="4.5"/>
<ellipse cx="2221.3" cy="3183.8" rx="6.5" ry="10" transform="rotate(-20 2221.3 3183.8)" fill="none" stroke-width="4.5"/>
<polyline points="2237.5,3138 2256,3127.5" fill="none" stroke-width="4.5" />
<polyline points="1140.1,1681.1 1240.6,1739" fill="none" stroke-width="4" />
<g transform="translate(1706.5,751.2) rotate(29.7) scale(1.121)" stroke-width="3.21" fill="#fff"><path d="M24,-11 L62,-11 Q70,-10 80,0 Q70,10 62,11 L24,11 Z"/><path d="M32,-11 q4,8 1,22" fill="none"/><path d="M40,-11 q4,8 1,22" fill="none"/><path d="M48,-11 q4,8 1,22" fill="none"/><path d="M56,-11 q4,8 1,22" fill="none"/><path d="M62,-11 q5,10 0,22" fill="none"/><ellipse cx="20" cy="0" rx="8" ry="24"/><path d="M17,-18 L3,-19 Q-3,-9 -2,0 Q-3,9 3,19 L17,18 Q22,0 17,-18 Z"/><path d="M2,-8 L19,-8 M2,8 L19,8" fill="none"/></g>
<g transform="translate(1321.6,1775.5) rotate(-157.5) scale(1.096)" stroke-width="3.29" fill="#fff"><path d="M24,-11 L62,-11 Q70,-10 80,0 Q70,10 62,11 L24,11 Z"/><path d="M32,-11 q4,8 1,22" fill="none"/><path d="M40,-11 q4,8 1,22" fill="none"/><path d="M48,-11 q4,8 1,22" fill="none"/><path d="M56,-11 q4,8 1,22" fill="none"/><path d="M62,-11 q5,10 0,22" fill="none"/><ellipse cx="20" cy="0" rx="8" ry="24"/><path d="M17,-18 L3,-19 Q-3,-9 -2,0 Q-3,9 3,19 L17,18 Q22,0 17,-18 Z"/><path d="M2,-8 L19,-8 M2,8 L19,8" fill="none"/></g>
<g transform="translate(909.3,2389.0) rotate(90.0) scale(1.062)" stroke-width="3.39" fill="#fff"><path d="M24,-11 L62,-11 Q70,-10 80,0 Q70,10 62,11 L24,11 Z"/><path d="M32,-11 q4,8 1,22" fill="none"/><path d="M40,-11 q4,8 1,22" fill="none"/><path d="M48,-11 q4,8 1,22" fill="none"/><path d="M56,-11 q4,8 1,22" fill="none"/><path d="M62,-11 q5,10 0,22" fill="none"/><ellipse cx="20" cy="0" rx="8" ry="24"/><path d="M17,-18 L3,-19 Q-3,-9 -2,0 Q-3,9 3,19 L17,18 Q22,0 17,-18 Z"/><path d="M2,-8 L19,-8 M2,8 L19,8" fill="none"/></g>
<g transform="translate(2345.3,2976.5) rotate(-90.0) scale(1.066)" stroke-width="3.38" fill="#fff"><path d="M24,-11 L62,-11 Q70,-10 80,0 Q70,10 62,11 L24,11 Z"/><path d="M32,-11 q4,8 1,22" fill="none"/><path d="M40,-11 q4,8 1,22" fill="none"/><path d="M48,-11 q4,8 1,22" fill="none"/><path d="M56,-11 q4,8 1,22" fill="none"/><path d="M62,-11 q5,10 0,22" fill="none"/><ellipse cx="20" cy="0" rx="8" ry="24"/><path d="M17,-18 L3,-19 Q-3,-9 -2,0 Q-3,9 3,19 L17,18 Q22,0 17,-18 Z"/><path d="M2,-8 L19,-8 M2,8 L19,8" fill="none"/></g>
<path d="M2345.3,2840 L2345.3,2886" fill="none" stroke-width="4.5" stroke-dasharray="30 4 5 4"/>
<g transform="translate(2336.2,3090.4) rotate(157.3) scale(1.048)" stroke-width="3.43" fill="#fff"><path d="M24,-11 L62,-11 Q70,-10 80,0 Q70,10 62,11 L24,11 Z"/><path d="M32,-11 q4,8 1,22" fill="none"/><path d="M40,-11 q4,8 1,22" fill="none"/><path d="M48,-11 q4,8 1,22" fill="none"/><path d="M56,-11 q4,8 1,22" fill="none"/><path d="M62,-11 q5,10 0,22" fill="none"/><ellipse cx="20" cy="0" rx="8" ry="24"/><path d="M17,-18 L3,-19 Q-3,-9 -2,0 Q-3,9 3,19 L17,18 Q22,0 17,-18 Z"/><path d="M2,-8 L19,-8 M2,8 L19,8" fill="none"/></g>
<g transform="translate(945.6,3685.7) rotate(156.7) scale(1.057)" stroke-width="3.41" fill="#fff"><path d="M24,-11 L62,-11 Q70,-10 80,0 Q70,10 62,11 L24,11 Z"/><path d="M32,-11 q4,8 1,22" fill="none"/><path d="M40,-11 q4,8 1,22" fill="none"/><path d="M48,-11 q4,8 1,22" fill="none"/><path d="M56,-11 q4,8 1,22" fill="none"/><path d="M62,-11 q5,10 0,22" fill="none"/><ellipse cx="20" cy="0" rx="8" ry="24"/><path d="M17,-18 L3,-19 Q-3,-9 -2,0 Q-3,9 3,19 L17,18 Q22,0 17,-18 Z"/><path d="M2,-8 L19,-8 M2,8 L19,8" fill="none"/></g>
<g transform="translate(334.1,4106.4) rotate(-24.0) scale(1.084)" stroke-width="3.32" fill="#fff"><path d="M24,-11 L62,-11 Q70,-10 80,0 Q70,10 62,11 L24,11 Z"/><path d="M32,-11 q4,8 1,22" fill="none"/><path d="M40,-11 q4,8 1,22" fill="none"/><path d="M48,-11 q4,8 1,22" fill="none"/><path d="M56,-11 q4,8 1,22" fill="none"/><path d="M62,-11 q5,10 0,22" fill="none"/><ellipse cx="20" cy="0" rx="8" ry="24"/><path d="M17,-18 L3,-19 Q-3,-9 -2,0 Q-3,9 3,19 L17,18 Q22,0 17,-18 Z"/><path d="M2,-8 L19,-8 M2,8 L19,8" fill="none"/></g>
<g transform="translate(3124.1,3895.9) rotate(-90.8) scale(1.035)" stroke-width="3.48" fill="#fff"><path d="M24,-11 L62,-11 Q70,-10 80,0 Q70,10 62,11 L24,11 Z"/><path d="M32,-11 q4,8 1,22" fill="none"/><path d="M40,-11 q4,8 1,22" fill="none"/><path d="M48,-11 q4,8 1,22" fill="none"/><path d="M56,-11 q4,8 1,22" fill="none"/><path d="M62,-11 q5,10 0,22" fill="none"/><ellipse cx="20" cy="0" rx="8" ry="24"/><path d="M17,-18 L3,-19 Q-3,-9 -2,0 Q-3,9 3,19 L17,18 Q22,0 17,-18 Z"/><path d="M2,-8 L19,-8 M2,8 L19,8" fill="none"/></g>
<ellipse cx="848.2" cy="429.5" rx="18" ry="33" transform="rotate(35 848.2 429.5)" fill="#fff" stroke-width="5"/>
<ellipse cx="860.9" cy="434.4" rx="18" ry="33" transform="rotate(35 860.9 434.4)" fill="#fff" stroke-width="5"/>
<ellipse cx="865" cy="437.7" rx="11" ry="19" transform="rotate(35 865 437.7)" fill="#fff" stroke-width="5"/>
<polygon points="875.9,422.1 897.5,435.5 877.9,463.3 854.1,453.3" fill="#fff" stroke-width="1"  stroke="none"/>
<polyline points="875.9,422.1 897.5,435.5" fill="none" stroke-width="5" />
<polyline points="854.1,453.3 877.9,463.3" fill="none" stroke-width="5" />
<ellipse cx="887.7" cy="449.4" rx="10" ry="17" transform="rotate(35 887.7 449.4)" fill="#fff" stroke-width="5"/>
<ellipse cx="2319" cy="577" rx="26" ry="44" transform="rotate(30 2319 577)" fill="#fff" stroke-width="5"/>
<ellipse cx="2323" cy="579" rx="19" ry="34" transform="rotate(30 2323 579)" fill="none" stroke-width="4.5"/>
<ellipse cx="2337.5" cy="585.8" rx="16" ry="27" transform="rotate(30 2337.5 585.8)" fill="#fff" stroke-width="5.5"/>
<ellipse cx="2337.5" cy="585.8" rx="7.5" ry="12.5" transform="rotate(30 2337.5 585.8)" fill="none" stroke-width="4"/>
<ellipse cx="134.6" cy="3607.8" rx="13" ry="25" transform="rotate(-20 134.6 3607.8)" fill="#fff" stroke-width="5"/>
<polygon points="120,3588 137,3583.5 137,3632 120,3636" fill="#fff" stroke-width="1"  stroke="none"/>
<path d="M112,3588.5 L129,3583.5 M124,3636.5 L141,3631.5" fill="none" stroke-width="5" />
<path d="M141,3592 L162,3588.5 M148,3616 L167,3607" fill="none" stroke-width="5" />
<ellipse cx="163.3" cy="3597.8" rx="5" ry="10" transform="rotate(-20 163.3 3597.8)" fill="#fff" stroke-width="5"/>
<ellipse cx="117.6" cy="3612.4" rx="13" ry="25" transform="rotate(-20 117.6 3612.4)" fill="#fff" stroke-width="5"/>
<ellipse cx="117.6" cy="3616" rx="4.5" ry="6.5" transform="rotate(-20 117.6 3616)" fill="none" stroke-width="3"/>
<ellipse cx="117.6" cy="3616" rx="1.5" ry="2" transform="rotate(0 117.6 3616)" fill="#000" stroke-width="1"/>
<polygon points="374.6,765.8 393.1,757.1 396,761 393.6,798 375.5,801.4 371.6,794.6" fill="#fff" stroke-width="4.5" />
<polygon points="379.9,768.3 391.6,762.9 389.2,795.1 377,799.5" fill="none" stroke-width="4.5" />
<ellipse cx="384.3" cy="785.3" rx="5.5" ry="5.5" transform="rotate(0 384.3 785.3)" fill="none" stroke-width="4"/>
<ellipse cx="383.8" cy="785.3" rx="1.5" ry="1.5" transform="rotate(0 383.8 785.3)" fill="#000" stroke-width="1"/>
<polyline points="372.6,777.5 351.2,788.2 345.3,795.6 350.7,849.6 360.4,854 365.8,851.1 377,844.3 391.1,846.2 388.2,809.7 382.8,804.3 376,801.4" fill="none" stroke-width="4.5" />
<polyline points="348.7,795.6 371.6,801.4" fill="none" stroke-width="4.5" />
<polyline points="349.2,800.4 354.6,845.3 359.5,847.7" fill="none" stroke-width="4" />
<polygon points="358.5,804.3 370.2,808.2 374.1,837.5 364.3,843.3" fill="none" stroke-width="4" />
<polygon points="361.4,812.1 363.8,835.5 367.3,833.6 364.3,812.1" fill="none" stroke-width="3.5" />
<polygon points="377,807.3 382.8,811.2 385.8,839.4 380.9,838.4" fill="none" stroke-width="4" />
<polyline points="350.7,813.1 356.5,813.1" fill="none" stroke-width="4" />
<polyline points="2507.3,806 2507.3,909.5" fill="none" stroke-width="4.5" />
<polyline points="2507.3,1016 2507.3,1395" fill="none" stroke-width="4.5" />
<polyline points="1109.7,358 1115.7,358" fill="none" stroke-width="2" />
<polyline points="1268,358 1274,358" fill="none" stroke-width="2" />
<polyline points="1532.9,358 1538.9,358" fill="none" stroke-width="2" />
<polyline points="1688.2,358 1694.2,358" fill="none" stroke-width="2" />
<polyline points="1939.8,358 1945.8,358" fill="none" stroke-width="2" />
<polyline points="2132.2,358 2138.2,358" fill="none" stroke-width="2" />
<polyline points="2258.9,358 2264.9,358" fill="none" stroke-width="2" />
<polyline points="2674.5,358 2680.5,358" fill="none" stroke-width="2" />
<text x="380.6" y="478.9" font-size="82" text-anchor="middle">14</text>
<line x1="441.5" y1="444.8" x2="760.1" y2="437.6" stroke-width="4.3"/>
<polygon points="819.1,436.3 755.4,448.2 754.9,427.2" fill="#000" stroke="none"/>
<text x="377.0" y="636.7" font-size="82" text-anchor="middle">19</text>
<line x1="423.3" y1="643.4" x2="510.4" y2="717.2" stroke-width="4.3"/>
<polygon points="555.4,755.4 499.8,722.0 513.4,706.0" fill="#000" stroke="none"/>
<text x="141.6" y="838.2" font-size="82" text-anchor="middle">23</text>
<line x1="207.1" y1="804.1" x2="274.7" y2="802.8" stroke-width="4.3"/>
<polygon points="333.7,801.7 269.9,813.4 269.5,792.4" fill="#000" stroke="none"/>
<text x="1401.7" y="496.6" font-size="82" text-anchor="middle">18</text>
<line x1="1389.8" y1="521.6" x2="1377.8" y2="577.7" stroke-width="4.3"/>
<polygon points="1365.4,635.4 1368.6,570.6 1389.1,575.0" fill="#000" stroke="none"/>
<text x="1859.3" y="555.1" font-size="82" text-anchor="middle">30</text>
<line x1="1821" y1="614.1" x2="1791.7" y2="682.8" stroke-width="4.3"/>
<polygon points="1768.6,737.1 1784.0,674.1 1803.3,682.3" fill="#000" stroke="none"/>
<text x="1541.1" y="890.0" font-size="82" text-anchor="middle">28</text>
<line x1="1493.3" y1="912.5" x2="1466.8" y2="963.7" stroke-width="4.3"/>
<polygon points="1439.7,1016.1 1459.8,954.4 1478.4,964.1" fill="#000" stroke="none"/>
<text x="1694.3" y="894.3" font-size="82" text-anchor="middle">12</text>
<line x1="1659" y1="906.5" x2="1633.1" y2="956.4" stroke-width="4.3"/>
<polygon points="1606,1008.8 1626.1,947.1 1644.8,956.8" fill="#000" stroke="none"/>
<text x="2503.9" y="471.0" font-size="82" text-anchor="middle">7</text>
<line x1="2461" y1="472.2" x2="2421.7" y2="503.9" stroke-width="4.3"/>
<polygon points="2375.8,541 2419.0,492.6 2432.2,509.0" fill="#000" stroke="none"/>
<text x="2785.0" y="749.9" font-size="82" text-anchor="middle">1</text>
<line x1="2751.8" y1="721.3" x2="2660.3" y2="719.1" stroke-width="4.3"/>
<polygon points="2601.3,717.7 2665.5,708.7 2665.0,729.7" fill="#000" stroke="none"/>
<text x="3070.3" y="425.3" font-size="82" text-anchor="middle">6</text>
<line x1="3011.8" y1="408.9" x2="2894.9" y2="443.3" stroke-width="4.3"/>
<polygon points="2838.3,460 2896.7,431.8 2902.7,452.0" fill="#000" stroke="none"/>
<text x="3140.4" y="813.9" font-size="82" text-anchor="middle">8</text>
<line x1="3080.6" y1="781.6" x2="2967.3" y2="779.6" stroke-width="4.3"/>
<polygon points="2908.3,778.6 2972.5,769.2 2972.1,790.2" fill="#000" stroke="none"/>
<text x="3144.0" y="941.2" font-size="82" text-anchor="middle">3</text>
<line x1="3106.2" y1="955.2" x2="3001.6" y2="1076.7" stroke-width="4.3"/>
<polygon points="2963.1,1121.4 2996.9,1066.0 3012.8,1079.8" fill="#000" stroke="none"/>
<text x="2427.2" y="1212.2" font-size="82" text-anchor="middle">25</text>
<line x1="2335" y1="1215.2" x2="2227.4" y2="1256.7" stroke-width="4.3"/>
<polygon points="2172.4,1278 2228.3,1245.1 2235.9,1264.7" fill="#000" stroke="none"/>
<text x="658.6" y="1912.5" font-size="82" text-anchor="middle">16</text>
<line x1="676" y1="1822.4" x2="754.4" y2="1574.2" stroke-width="4.3"/>
<polygon points="772.2,1517.9 762.9,1582.1 742.9,1575.8" fill="#000" stroke="none"/>
<text x="788.0" y="1912.5" font-size="82" text-anchor="middle">15</text>
<line x1="805.1" y1="1839.5" x2="830.6" y2="1617.9" stroke-width="4.3"/>
<polygon points="837.4,1559.3 840.5,1624.1 819.6,1621.7" fill="#000" stroke="none"/>
<line x1="805.1" y1="1839.5" x2="1017.7" y2="1748.3" stroke-width="4.3"/>
<polygon points="1071.9,1725 1017.2,1759.9 1008.9,1740.6" fill="#000" stroke="none"/>
<text x="1314.5" y="2032.5" font-size="82" text-anchor="middle">29</text>
<line x1="1304.5" y1="1903.4" x2="1300.2" y2="1861.6" stroke-width="4.3"/>
<polygon points="1294.2,1802.9 1311.2,1865.5 1290.3,1867.6" fill="#000" stroke="none"/>
<text x="3140.6" y="2221.3" font-size="82" text-anchor="middle">5</text>
<line x1="3080.6" y1="2182.3" x2="2755.3" y2="2159.1" stroke-width="4.3"/>
<polygon points="2696.4,2154.9 2761.0,2149.0 2759.5,2169.9" fill="#000" stroke="none"/>
<text x="448.2" y="2512.4" font-size="82" text-anchor="middle">10</text>
<line x1="506.7" y1="2463.1" x2="660.0" y2="2420.0" stroke-width="4.3"/>
<polygon points="716.8,2404 658.0,2431.4 652.3,2411.2" fill="#000" stroke="none"/>
<text x="190.3" y="2961.3" font-size="82" text-anchor="middle">20</text>
<line x1="242.4" y1="2959.4" x2="422.5" y2="3066.9" stroke-width="4.3"/>
<polygon points="473.2,3097.1 412.9,3073.3 423.6,3055.3" fill="#000" stroke="none"/>
<text x="979.0" y="2245.7" font-size="82" text-anchor="middle">29</text>
<line x1="963.5" y1="2268.2" x2="943.3" y2="2318.8" stroke-width="4.3"/>
<polygon points="921.4,2373.6 935.4,2310.3 954.9,2318.1" fill="#000" stroke="none"/>
<text x="1021.3" y="2424.1" font-size="82" text-anchor="middle">13</text>
<line x1="1073.1" y1="2355.3" x2="1133.0" y2="2312.4" stroke-width="4.3"/>
<polygon points="1180.9,2278 1135.0,2323.8 1122.8,2306.8" fill="#000" stroke="none"/>
<text x="1000.0" y="2589.8" font-size="82" text-anchor="middle">9</text>
<line x1="1059.1" y1="2550.2" x2="1209.4" y2="2532.6" stroke-width="4.3"/>
<polygon points="1268,2525.8 1205.7,2543.7 1203.2,2522.8" fill="#000" stroke="none"/>
<text x="1864.8" y="2765.2" font-size="82" text-anchor="middle">2</text>
<line x1="1803.9" y1="2739" x2="1629.2" y2="2758.6" stroke-width="4.3"/>
<polygon points="1570.6,2765.2 1633.0,2747.6 1635.4,2768.5" fill="#000" stroke="none"/>
<text x="2092.8" y="2589.8" font-size="82" text-anchor="middle">28</text>
<line x1="2054.8" y1="2609.3" x2="2044.6" y2="2621.2" stroke-width="4.3"/>
<polygon points="2006.1,2665.9 2039.9,2610.5 2055.8,2624.2" fill="#000" stroke="none"/>
<text x="2595.9" y="2991.7" font-size="82" text-anchor="middle">29</text>
<line x1="2526.8" y1="2959.4" x2="2434.6" y2="2966.8" stroke-width="4.3"/>
<polygon points="2375.8,2971.6 2438.7,2956.0 2440.4,2976.9" fill="#000" stroke="none"/>
<line x1="2526.8" y1="2959.4" x2="2385.8" y2="3042.7" stroke-width="4.3"/>
<polygon points="2335,3072.7 2384.8,3031.1 2395.4,3049.2" fill="#000" stroke="none"/>
<text x="2010.6" y="3131.8" font-size="82" text-anchor="middle">21</text>
<line x1="2059.1" y1="3094" x2="2117.2" y2="3063.2" stroke-width="4.3"/>
<polygon points="2169.3,3035.6 2117.7,3074.8 2107.8,3056.3" fill="#000" stroke="none"/>
<text x="2527.7" y="3164.1" font-size="82" text-anchor="middle">24</text>
<line x1="2463.7" y1="3180.5" x2="2225.8" y2="3356.7" stroke-width="4.3"/>
<polygon points="2178.4,3391.8 2223.6,3345.3 2236.1,3362.1" fill="#000" stroke="none"/>
<text x="3122.1" y="2344.9" font-size="82" text-anchor="middle">26</text>
<line x1="3048.4" y1="2324.8" x2="2987.9" y2="2334.1" stroke-width="4.3"/>
<polygon points="2929.6,2343.1 2991.3,2323.0 2994.5,2343.7" fill="#000" stroke="none"/>
<text x="3152.5" y="2477.1" font-size="82" text-anchor="middle">4</text>
<line x1="3089.8" y1="2463.1" x2="2992.3" y2="2476.8" stroke-width="4.3"/>
<polygon points="2933.9,2485 2995.8,2465.7 2998.7,2486.5" fill="#000" stroke="none"/>
<text x="3154.3" y="3075.2" font-size="82" text-anchor="middle">31</text>
<line x1="3124.5" y1="3092.2" x2="3112.0" y2="3106.1" stroke-width="4.3"/>
<polygon points="3072.7,3150.1 3107.5,3095.4 3123.2,3109.4" fill="#000" stroke="none"/>
<text x="872.5" y="3439.3" font-size="82" text-anchor="middle">29</text>
<line x1="886.1" y1="3502.7" x2="899.1" y2="3594.1" stroke-width="4.3"/>
<polygon points="907.4,3652.5 888.0,3590.6 908.8,3587.7" fill="#000" stroke="none"/>
<text x="270.8" y="3849.8" font-size="82" text-anchor="middle">27</text>
<line x1="240.6" y1="3769.4" x2="181.2" y2="3677.6" stroke-width="4.3"/>
<polygon points="149.2,3628.1 192.8,3676.1 175.1,3687.5" fill="#000" stroke="none"/>
<text x="741.5" y="4168.3" font-size="82" text-anchor="middle">21</text>
<line x1="679" y1="4118.4" x2="579.5" y2="4092.1" stroke-width="4.3"/>
<polygon points="522.5,4077 587.1,4083.2 581.7,4103.5" fill="#000" stroke="none"/>
<text x="474.1" y="4369.0" font-size="82" text-anchor="middle">29</text>
<line x1="433.6" y1="4247.2" x2="400.1" y2="4173.1" stroke-width="4.3"/>
<polygon points="375.8,4119.3 411.7,4173.3 392.6,4181.9" fill="#000" stroke="none"/>
<text x="1749.1" y="4120.6" font-size="82" text-anchor="middle">32</text>
<line x1="1816.1" y1="4074.9" x2="1888.9" y2="4040.1" stroke-width="4.3"/>
<polygon points="1942.1,4014.6 1888.9,4051.7 1879.8,4032.8" fill="#000" stroke="none"/>
<text x="3027.1" y="3249.9" font-size="82" text-anchor="middle">35</text>
<line x1="2958.8" y1="3251.8" x2="2893.1" y2="3296.5" stroke-width="4.3"/>
<polygon points="2844.3,3329.7 2891.3,3285.0 2903.1,3302.4" fill="#000" stroke="none"/>
<text x="3122.7" y="3460.7" font-size="82" text-anchor="middle">33</text>
<line x1="3054.5" y1="3478.3" x2="2988.5" y2="3523.9" stroke-width="4.3"/>
<polygon points="2940,3557.5 2986.7,3512.5 2998.6,3529.7" fill="#000" stroke="none"/>
<text x="2917.4" y="4034.3" font-size="82" text-anchor="middle">29</text>
<line x1="2966.1" y1="3972.2" x2="3030.5" y2="3927.0" stroke-width="4.3"/>
<polygon points="3078.8,3893.1 3032.4,3938.5 3020.4,3921.3" fill="#000" stroke="none"/>
<text x="2915.9" y="4168.3" font-size="82" text-anchor="middle">34</text>
<line x1="2835.2" y1="4127.5" x2="2634.5" y2="4073.0" stroke-width="4.3"/>
<polygon points="2577.6,4057.5 2642.1,4064.2 2636.6,4084.4" fill="#000" stroke="none"/>
</svg></body></html>
